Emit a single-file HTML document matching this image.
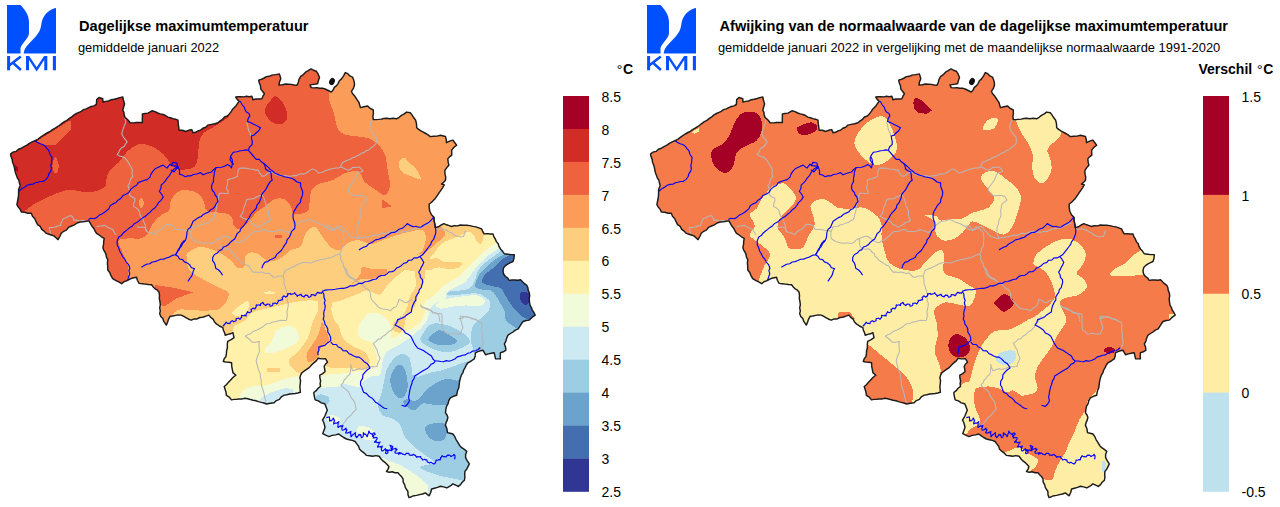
<!DOCTYPE html>
<html><head><meta charset="utf-8"><title>KMI</title>
<style>
html,body{margin:0;padding:0;background:#fff;}
body{width:1280px;height:507px;overflow:hidden;font-family:"Liberation Sans",sans-serif;}
svg{display:block;font-family:"Liberation Sans",sans-serif;}
text{fill:#000;}
</style></head><body>
<svg width="1280" height="507" viewBox="0 0 1280 507">
<defs>
<clipPath id="be"><polygon points="10.5,154 13,152.1 16.1,151.4 18.4,149.2 21.4,148.2 24.1,146.6 26.9,145.2 29.4,143.3 32.2,141.9 35,140.6 37.8,139.3 40.3,137.4 42.8,135.7 45.3,134 48,132.5 50.4,131.3 52.5,129.6 54.8,128.3 57.1,126.9 59.3,125.5 61.4,123.8 64,121.9 66.9,120.4 69.4,118.4 72.1,116.6 74.1,114.8 76.5,113.5 79,112.4 81.4,111.3 83.5,109.6 86.3,108.9 88.7,107.6 91.3,106.5 94,105.9 96.4,104.5 96.7,99.6 99,97.5 102.8,98.7 102.9,102.1 105.6,101.4 108.6,101 111.3,99.7 114.2,99.3 117.1,98.5 119.9,97.6 122.8,97 123.5,100.6 124.6,103.9 123.7,107 122.8,110.1 124,112.5 124.2,115.2 125.2,117.6 128,120 130.2,122.8 133.3,122.9 136.4,122.5 139.4,122.5 142.4,122.5 142.3,119.8 142.4,116.8 142.4,113.9 145.1,113.5 147.9,113.1 152,110.8 155,111.6 157.6,113 160.4,113.9 163,114.5 165.5,115.5 167.8,117.1 170.4,117.8 172.9,118.6 175.5,119.2 178,120.2 178.2,123.6 178.7,126.9 179.1,130.2 182.4,130.3 185.5,131.5 188.5,130.3 191.7,129.6 193,132.7 195.6,132.3 198,130.9 200.5,130.3 202.8,128.3 205.7,127.2 207.9,125.1 211.3,124.4 214.7,123.7 218,122.8 220.2,120.9 222.6,119.3 224.5,117 227.3,116 229.3,113.9 231,111.9 232.4,109.6 234.3,107.6 236.1,105.7 237.6,103.4 239.2,101.3 237.2,99.4 235.7,97 238.3,96.7 241,96.8 243.8,96.9 246.5,96.3 249.2,96.7 251.9,96.3 252.9,99.7 256,99 259,99 261.9,98.7 262.9,96.2 264.4,93.8 262.5,91.3 260.7,88.8 260.5,85.8 259.3,83 258.7,80.1 261.6,79.3 264.1,78 266.5,76.6 269.4,76.3 271.9,75.1 275.7,74.6 279.4,73.9 280.8,78.8 279.5,81.9 279,85.1 282.4,84.8 285.7,84 288.5,84.2 291.4,84.4 294.1,85 297,85.2 298.3,82.2 299.1,79.1 300.7,76.3 303.4,74.6 305.5,72.2 308.2,70.6 310.9,68.9 313.5,70.2 316.3,71.2 318.2,74.2 319.5,77.5 318.4,80.6 317.6,83.8 313.7,84.4 310,84.9 311.2,87.6 314.1,87.9 316.9,87.6 319.6,88.3 322.4,88.1 325.1,89 328.2,90.5 331.3,92.1 333.1,90 334.3,87.4 336.6,85.6 338.2,83.4 339.4,80.8 341.5,78.9 343.6,75.8 345.3,72.6 347.8,73.7 349.9,75.9 352.5,77.1 353.5,79.6 354.3,82.3 354.5,85.1 353.4,88.4 351.4,91.3 352.6,93.7 354.5,95.8 356,98 357.5,100.3 359,102.5 360.4,107.6 364,106.8 367.7,106 370.2,108.4 373.3,110 373.4,113.3 372.9,116.4 373.3,119.6 375.9,119.6 378.6,119.4 381.2,119.1 383.9,118.5 386.5,118.2 389.8,118.7 393.2,118.3 396.5,118.8 399.1,117.3 401.5,115.4 404.2,113.9 406.6,112.1 410.3,112.7 412.1,115.2 413.8,117.8 415.7,120.3 416.5,123.9 416.7,127.7 418.6,129.4 420.9,130.9 423.3,132.2 425.7,133.5 428.1,134.8 430.2,136.6 433.7,136.2 437.1,136.1 440.4,135.3 445.4,136.5 446.3,139.5 446.5,142.7 449.6,141.1 452.9,140.1 454.8,142.7 456.6,145.2 453.8,147.4 451.6,150.2 451.8,155.2 449.5,156.9 447.8,158.9 448.2,162.2 448.9,165.3 446.8,167.6 444.9,170.3 444.9,173.6 445.7,176.9 445.5,180.3 443.6,182.3 441.5,184 444.2,184.8 442.7,187.7 441,190.1 439.2,192.6 437.2,195.7 435.1,198.7 433.3,200.6 431.4,202.5 429.2,204 429.2,207.6 429.8,211.3 431.5,214.7 434.2,217.5 434,221 435.1,224.2 435.1,227.6 438.4,226.8 441.1,225 444,223.7 446.6,224.8 449.1,225.6 451.6,226.5 454.5,225.6 457.5,225.9 460.4,225 463.5,225.2 466.7,225.3 469.8,225.6 472.9,226.4 475.9,226.9 478.8,227.9 481.7,229 482.7,231.5 484.2,233.9 487.1,233.6 490.1,234 493,233.9 493.8,236.6 495.3,239 496.4,241.6 498.2,243.8 499,246.5 500.5,248.9 502.6,251.3 504.4,253.8 507.6,254.2 511,254.6 514.3,254.6 514,258.2 513,261.5 510.5,262.7 508,263.9 505.5,265.6 503.6,267.8 503,270.9 503.6,274 505.3,276.3 507.6,278 509.2,280.4 512.1,280 515,280 517.8,280.2 520.6,279.8 522.5,281.8 524.5,283.7 526.8,285.3 527.9,287.7 528.2,290.4 529.3,292.8 529.7,295.8 529.2,298.9 529.5,302 530,305 531.4,307.5 532.3,310.2 533.9,312.5 535.2,315.1 532,317.4 529.3,320.1 526.2,320.5 523.1,321.5 521.4,323.8 519.8,326.3 518.2,328.9 515.3,330.1 513,332 510.5,333.5 508,335.1 506.7,338 505.9,341.1 504.4,343.9 505.5,346.9 505.9,350.2 503.4,351.8 500.5,352.6 500.2,355.8 500.4,358.9 495.5,358.7 494.9,355.8 494.2,352.7 491.3,353.3 488.4,353.9 485.5,354.7 482.9,350.2 480.4,350.8 477.9,351.6 475.4,352.8 475.2,355.9 474.2,358.9 471.2,361 467.9,362.8 466.3,365 465.1,367.6 463.7,370 462.9,372.7 461.4,375.1 460.5,377.7 459.6,381.4 459.1,385.2 458.8,387.8 457.7,390.2 457.1,392.7 456.7,395.3 453.4,396.3 450.4,397.9 448.8,400.5 448.1,403.7 446.5,406.4 445.8,409.6 445.5,412.8 447,415 447.9,417.6 447.2,420.1 446.1,422.6 445.4,425.1 446.9,428.7 447.5,432.6 450.1,433.3 452.9,434 454.8,436.7 456.2,439.8 458,442.6 459.6,445.4 461.7,447.7 464.3,449.4 466.8,451.3 465.6,454.5 465.6,457.7 467.3,460.9 469.3,463.9 468,466.6 466.7,469.2 464.9,471.4 464.7,474.4 464.9,477.4 464.4,480.3 462.2,482.3 460.5,484.6 458.3,486.4 455.7,485.2 452.9,483.9 450,486.2 446.8,487.9 443.6,486.9 440.4,486.3 437.5,487.4 434.5,488.2 431.6,489 430.7,492.5 429.2,495.8 425.3,492.9 422.6,494 419.6,494.6 416.6,495.4 414,495.7 411.5,496.7 409,497.6 408,494.7 407.9,491.5 405.4,487.7 404.7,484.8 403.2,482.1 403,478.9 401.5,476.6 399.6,474.7 397.9,472.6 394.9,472.7 392.2,471.8 389.3,472.2 386.5,471.5 388.1,469.2 388.9,466.5 387.1,464.6 385.3,462.7 382.9,460.9 380.9,458.7 379.1,456.3 375.9,455.6 372.7,456.2 369.6,455.8 366.5,455.4 364.2,453.1 361.6,451.2 359.5,449.1 358.6,446.3 356.8,443.9 355.1,441.5 352.3,440.4 349.3,439.7 346.4,439 343.7,437.5 341.3,435.8 338.8,434 335.6,434.9 332.2,435.4 328.9,436.6 325.7,435.2 322.7,433.7 323.8,430.7 325,427.5 324.5,425 323.8,422.5 322.5,420.1 324,417.7 325.2,415.3 326.2,412.7 327.3,410.2 326.1,406.9 324.7,403.8 321.3,402.9 318.4,400.9 315.2,399.9 314.3,396.3 313.8,392.5 316.2,390.7 318.1,388.3 320.5,386.4 320.1,383.7 320.6,380.8 319.9,378 319.8,375.2 322.7,373.6 325.1,371.5 324.2,366.4 325.5,364 327.5,362.2 325.6,358.8 321.7,358.9 318,358.2 316.5,360.6 314.4,362.4 312.3,364.3 310.4,366.3 308.5,368.2 306.2,369.7 304,371.2 301.8,372.9 300.6,375.1 299.9,377.7 300.5,380.6 300.3,383.5 299.9,386.4 300.1,389.3 300.4,392.2 297.8,393 295.1,393.5 292.3,393.7 289.6,394 286.9,394.7 284.2,395.1 281.4,396.8 279.4,399.4 276.4,400.6 274.1,402.8 270.3,403.3 266.6,404 264,403 261.2,402.4 258.5,401.6 255.9,400.7 253.1,400.2 250.4,399.5 247.7,398.7 245,398.3 242.4,398.9 239.6,398.9 236.9,399.2 234.2,399.4 231.5,399.9 229.3,397.2 226.4,395.3 226,392.2 225.1,389.3 224.2,386.5 226.4,384.7 228.3,382.4 230.4,380.3 232.9,377.5 235.8,375.2 232.9,372.6 232.3,369.4 231.7,366.1 231.6,362.7 228.8,362.3 226,362.1 223.3,361.5 224.2,358.8 225.9,356.6 226.4,353.9 226.6,350.8 227.4,347.7 227.3,344.5 227.7,341.4 231.1,339.7 234,337.7 232.9,332.6 230.4,333.8 227.8,334.4 225.3,335.2 224.5,332.6 223.4,330.2 222.8,327.6 219.5,326 216.4,323.9 214.4,321.8 213.1,319.1 210.7,317.4 208.9,315.1 205.9,316.1 202.8,317.2 199.8,317.5 197.1,318.9 194.1,318.9 191.4,320.1 188.7,319.2 186.3,317.8 183.8,316.4 181.3,315.1 178.5,314.9 175.7,315.4 172.9,316 170.1,316.3 168.6,319.1 167.6,322.1 166.3,325.1 163.8,321.4 162.8,318.6 160.8,316.4 159.7,313.7 160.3,310.8 159.7,307.8 160.3,304.8 160,301.7 159.3,298.6 159.5,295.4 159.1,292.3 157.4,290.2 155.1,288.8 153.2,286.9 151.6,284.7 148.5,284.5 145.3,284.1 142.2,283.7 139.1,283.4 137.5,280.5 136.5,277.2 131.6,278.3 129,279.5 126.5,280.9 123.9,281.8 121.7,283.7 118.7,281.8 115.6,280.4 112.7,278.6 111,275.6 109.7,272.5 107.7,269.8 107.7,266.4 107.4,263 107.8,259.7 106.5,257.3 106.1,254.6 105,252.1 103.6,249.8 102.9,247.2 103.6,244.3 103.7,241.3 104.2,238.4 101.4,236.8 99.1,235 96.5,233.4 95,230.9 93.7,228.2 91.8,226 90.4,223.4 88.9,220.9 86.1,221.2 83.2,221.9 80.2,222 77.1,223 74.4,224.8 71.5,226 68.6,227.3 66.6,229.9 63.7,231.3 61.3,233.3 59.8,236.5 58,239.6 56,237.8 53.9,235.9 51.4,235 48.9,234.2 46.4,233.4 44.2,231.2 41.7,229.3 40.2,226.4 37.6,224.6 36.1,221.7 34.8,218.7 32.5,216.3 31.3,213.3 27.9,213.2 24.7,212.3 21.3,212 20.2,209.4 18.3,207.1 16.9,204.6 17.5,201.5 18.1,198.5 18.5,195.6 18.6,192.5 18.6,189.5 20.2,185.4 19.4,182.7 18.8,180.1 17.3,177.9 16.5,175.4 15.5,172.9 14.9,170.3 14.4,167.6 13.6,164.8 12.5,162.2 12.2,159.4 11.1,156.8"/></clipPath>
</defs>
<rect width="1280" height="507" fill="#fff"/>
<!-- left map -->
<g clip-path="url(#be)" shape-rendering="crispEdges">
<rect x="0" y="60" width="560" height="447" fill="#fb9c59"/>
<path d="M172.5 316.5C172.8 315.8 173.2 313.6 174.5 312.4C175.8 311.2 177.2 309.7 180.5 309.4C183.8 309.1 189.2 310.2 194.6 310.4C200.0 310.6 208.7 310.6 212.7 310.4C216.7 310.2 216.5 310.8 218.7 309.4C220.9 308.0 224.1 305.0 225.8 302.3C227.5 299.6 229.7 295.7 228.8 293.3C228.0 290.9 224.7 290.4 220.7 288.2C216.7 286.0 209.8 283.2 204.6 280.2C199.4 277.2 192.6 274.1 189.6 270.1C186.6 266.1 186.6 259.0 186.5 256C186.4 253.0 186.9 253.5 189 252C191.1 250.5 195.3 247.5 199 247C202.7 246.5 207.3 247.9 211 249C214.7 250.1 217.7 251.6 221 253.5C224.3 255.4 228.2 258.2 231 260.5C233.8 262.8 235.2 266.5 237.5 267.5C239.8 268.5 243.2 268.3 244.5 266.5C245.8 264.7 244.4 258.8 245.5 256.5C246.6 254.2 248.9 252.9 251 252.5C253.1 252.1 256.0 253.1 258 254C260.0 254.9 261.5 256.8 263 258C264.5 259.2 265.0 260.6 267 261C269.0 261.4 272.7 261.0 275 260.5C277.3 260.0 279.1 259.1 281 258C282.9 256.9 284.7 255.3 286.4 254C288.1 252.7 288.6 251.2 291 250C293.4 248.8 298.2 248.8 300.5 246.5C302.8 244.2 303.2 239.2 304.5 236.5C305.8 233.8 306.2 231.7 308 230.1C309.8 228.5 312.7 226.0 315 227C317.3 228.0 320.1 233.4 322 236C323.9 238.6 324.9 240.4 326.7 242.5C328.5 244.6 330.3 247.3 332.7 248.5C335.1 249.7 338.4 250.5 340.8 249.6C343.2 248.7 344.4 244.7 347.3 243.1C350.2 241.5 354.5 239.9 358.4 240.1C362.2 240.2 366.7 243.8 370.4 244C374.1 244.2 376.1 242.5 380.5 241C384.9 239.5 391.2 236.8 396.6 235.1C402.0 233.4 408.3 231.9 412.7 231.1C417.1 230.3 420.6 228.9 422.8 230.1C425.0 231.3 425.8 234.8 425.8 238.1C425.8 241.4 424.3 247.3 422.8 250.2C421.3 253.0 417.4 253.7 416.7 255.2C416.0 256.7 417.3 259.4 418.7 259.2C420.1 259.0 422.8 256.0 424.8 254.2C426.8 252.4 428.5 250.4 430.8 248.2C433.1 246.0 436.5 243.3 438.9 241.1C441.2 238.9 444.1 236.9 444.9 235.1C445.7 233.3 444.6 231.6 443.9 230.1C443.2 228.6 441.4 226.7 440.9 226L450 215L560 215L560 520L150 520L172 330Z" fill="#fece7f"/>
<path d="M228 337C228.8 335.9 231.8 332.2 232.8 330.5C233.8 328.8 231.8 328.2 233.8 326.5C235.8 324.8 241.7 322.8 244.9 320.4C248.1 318.0 249.2 314.4 252.9 312.4C256.6 310.4 262.3 309.6 267 308.4C271.7 307.2 276.7 306.3 281.1 305.3C285.5 304.3 288.5 303.1 293.2 302.3C297.9 301.5 305.1 300.5 309.3 300.3C313.5 300.1 315.8 300.9 318.4 301.3C321.0 301.8 322.8 302.4 325 303C327.2 303.6 330.0 305.1 331.4 305C332.8 304.9 331.8 303.1 333.5 302.3C335.2 301.5 337.7 301.6 341.5 300.3C345.3 299.0 352.2 296.1 356.4 294.5C360.5 292.9 363.5 290.6 366.4 290.4C369.3 290.1 371.6 292.3 374 293C376.4 293.7 378.4 295.6 380.5 294.5C382.6 293.4 383.8 289.4 386.5 286.4C389.2 283.4 393.6 279.1 396.6 276.4C399.6 273.7 401.7 271.1 404.7 270.3C407.7 269.5 412.1 271.7 414.7 271.3C417.2 270.9 418.0 268.2 420 268C422.0 267.8 425.3 271.6 426.8 270.3C428.3 269.0 427.5 263.2 428.8 260.2C430.1 257.2 432.8 254.9 434.8 252.2C436.8 249.5 438.5 246.1 440.9 244.1C443.2 242.1 445.9 241.4 448.9 240.1C451.9 238.8 456.0 237.4 459 236.1C462.0 234.8 464.6 232.4 467 232.1C469.4 231.8 471.4 232.4 473.1 234.1C474.8 235.8 475.8 240.4 477.1 242.1C478.4 243.8 480.1 244.8 481.1 244.1C482.1 243.4 482.6 239.9 483.1 238.1C483.6 236.2 483.9 233.8 484 233L500 225L560 225L560 520L200 520L200 340L215 345Z" fill="#fff1aa"/>
<path d="M318 377C318.4 376.7 318.6 375.8 320.7 375.3C322.8 374.9 326.8 374.6 330.8 374.3C334.8 374.0 340.5 373.8 344.9 373.3C349.3 372.8 353.3 371.8 357 371.3C360.7 370.8 364.3 370.8 367 370.3C369.7 369.8 371.4 370.0 373.1 368.3C374.8 366.6 376.8 363.2 377.1 360.2C377.4 357.2 376.1 353.2 375.1 350.2C374.1 347.2 372.9 343.7 371 342C369.1 340.3 366.2 341.3 364 340C361.8 338.7 358.7 336.7 358 334C357.3 331.3 358.8 326.8 360 324C361.2 321.2 363.3 318.8 365 317C366.7 315.2 367.5 313.5 370 313C372.5 312.5 377.0 312.8 380 314C383.0 315.2 386.2 317.5 388 320C389.8 322.5 390.3 325.9 391 329C391.7 332.1 390.7 337.4 392.3 338.3C393.9 339.2 397.7 335.6 400.4 334.3C403.1 333.0 405.4 332.0 408.4 330.3C411.4 328.6 415.8 326.9 418.5 324.2C421.2 321.5 423.4 317.8 424.5 314.2C425.6 310.6 423.4 305.4 424.8 302.5C426.2 299.6 430.1 298.9 432.8 296.5C435.5 294.1 438.2 290.8 440.9 288.4C443.6 286.0 445.9 284.4 448.9 282.4C451.9 280.4 456.0 278.8 459 276.4C462.0 274.0 464.3 271.0 467 268.3C469.7 265.6 472.4 262.9 475.1 260.2C477.8 257.5 480.4 254.5 483.1 252.2C485.8 249.9 489.0 247.7 491.2 246.2C493.4 244.7 495.4 243.6 496.2 243.1L510 235L560 235L560 520L305 520L305 380Z" fill="#f1fad9"/>
<path d="M317 388C317.3 387.7 316.7 387.0 318.7 386.4C320.7 385.8 325.1 384.9 328.8 384.4C332.5 383.9 336.9 383.1 340.9 383.4C344.9 383.7 349.9 385.4 352.9 386C355.9 386.6 357.0 387.9 359 387C361.0 386.1 362.8 382.2 365 380.4C367.2 378.6 369.4 377.0 372 376C374.6 375.0 378.6 376.8 380.3 374.5C382.0 372.2 381.3 366.1 382.3 362.4C383.3 358.7 384.0 355.1 386.3 352.4C388.6 349.7 393.0 348.4 396.4 346.4C399.8 344.4 403.0 342.6 406.4 340.3C409.8 338.0 413.5 335.0 416.5 332.3C419.5 329.6 422.5 326.9 424.5 324.2C426.5 321.5 427.6 318.9 428.6 316.2C429.6 313.5 429.4 310.3 430.6 308.1C431.8 305.9 433.6 304.4 436 303C438.4 301.6 443.1 301.2 444.9 299.5C446.7 297.8 444.9 294.7 446.9 292.5C448.9 290.3 454.0 288.1 457 286.4C460.0 284.7 462.6 284.4 465 282.4C467.4 280.4 469.1 277.0 471.1 274.3C473.1 271.6 474.8 269.0 477.1 266.3C479.4 263.6 482.4 260.6 485.1 258.2C487.8 255.8 490.9 253.9 493.2 252.2C495.5 250.5 498.2 248.9 499.2 248.2L515 240L560 240L560 520L305 520L305 390Z" fill="#cdeaf3"/>
<path d="M502 250C501.4 250.5 500.0 251.8 498.2 253.2C496.4 254.6 493.7 256.3 491.2 258.2C488.7 260.1 485.5 261.9 483.1 264.3C480.8 266.7 478.4 269.6 477.1 272.3C475.8 275.0 476.5 277.7 475.1 280.4C473.8 283.1 471.4 286.7 469 288.4C466.6 290.1 464.2 289.9 461 290.4C457.8 290.9 452.2 290.9 449.9 291.4C447.6 291.9 447.2 292.8 447 293.5C446.8 294.2 446.6 295.3 448.9 295.5C451.2 295.7 456.3 294.8 461 294.5C465.7 294.2 472.7 292.8 477.1 293.5C481.5 294.2 485.1 297.1 487.2 298.5C489.3 299.9 489.6 300.2 489.9 302.1C490.2 304.0 490.4 307.4 488.9 310.1C487.4 312.8 483.6 315.5 480.9 318.2C478.2 320.9 474.5 322.8 472.8 326.2C471.1 329.6 470.8 334.6 470.8 338.3C470.8 342.0 471.9 345.4 472.8 348.4C473.7 351.3 475.5 354.7 476 356L480 370L560 370L560 240L510 240Z" fill="#9ccde3"/>
<path d="M466 362C465.8 362.1 467.0 361.6 464.8 362.4C462.6 363.1 456.7 365.1 452.7 366.5C448.7 367.9 444.3 369.5 440.6 370.5C436.9 371.5 434.3 371.5 430.6 372.5C426.9 373.5 421.5 376.2 418.5 376.5C415.5 376.8 413.7 376.2 412.5 374.5C411.3 372.8 412.1 369.5 411.4 366.5C410.7 363.5 410.2 358.4 408.4 356.4C406.6 354.4 403.1 353.7 400.4 354.4C397.7 355.1 394.6 357.7 392.3 360.4C390.0 363.1 387.6 367.1 386.3 370.5C385.0 373.9 385.2 376.6 384.3 380.6C383.4 384.6 382.2 390.4 381.1 394.5C380.0 398.6 377.4 401.7 377.7 405.1C378.0 408.5 380.2 412.8 382.7 415.1C385.2 417.4 389.8 417.1 392.7 418.8C395.6 420.5 398.2 422.0 400.3 425.1C402.4 428.2 402.8 433.8 405.3 437.6C407.8 441.4 412.0 444.8 415.3 447.7C418.6 450.6 422.0 452.7 425.3 455.2C428.6 457.7 435.3 461.0 435.3 462.7C435.3 464.4 427.8 464.4 425.3 465.2C422.8 466.0 419.5 466.4 420.3 467.7C421.1 468.9 426.5 471.2 430.3 472.7C434.1 474.2 438.7 475.4 442.9 476.5C447.1 477.6 451.9 478.2 455.4 479C458.9 479.8 462.6 480.7 464 481L485 481L485 362Z" fill="#9ccde3"/>
<path d="M420.5 338.3C421.2 335.3 425.9 328.7 428.6 326.2C431.3 323.7 432.6 323.0 436.6 323.2C440.6 323.4 448.0 325.3 452.7 327.2C457.4 329.1 461.9 331.8 464.8 334.3C467.7 336.8 470.5 340.0 469.8 342.3C469.1 344.6 464.2 346.7 460.7 348.4C457.2 350.1 452.7 352.1 448.7 352.4C444.7 352.7 440.6 351.8 436.6 350.4C432.6 349.0 427.2 346.3 424.5 344.3C421.8 342.3 419.8 341.3 420.5 338.3Z" fill="#9ccde3"/>
<path d="M316 396C317.0 394.8 319.9 394.2 322 394.5C324.1 394.8 327.6 396.1 328.8 397.5C330.0 398.9 330.1 401.7 329 403C327.9 404.3 324.2 405.7 322 405.5C319.8 405.3 317.0 403.6 316 402C315.0 400.4 315.0 397.2 316 396Z" fill="#9ccde3"/>
<path d="M504 254.5C502.9 255.1 499.7 256.6 497.2 258.2C494.7 259.8 491.9 261.9 489.2 264.3C486.5 266.7 483.1 270.0 481.1 272.3C479.1 274.6 478.1 276.0 477.1 278.4C476.1 280.8 474.4 284.6 475.1 286.4C475.8 288.2 478.4 288.7 481.1 289.4C483.8 290.1 488.7 289.3 491.2 290.4C493.7 291.5 494.5 293.9 496 296C497.5 298.1 498.5 300.3 500 303C501.5 305.7 504.0 309.2 505 312C506.0 314.8 504.6 317.6 506 320C507.4 322.4 511.1 324.7 513.1 326.2C515.1 327.7 517.2 328.5 518 329L530 335L560 335L560 245L510 245Z" fill="#6ca3cc"/>
<path d="M428.6 338.3C429.8 336.3 435.6 331.1 438.6 330.3C441.6 329.5 443.7 331.6 446.7 333.3C449.7 335.0 455.7 338.5 456.7 340.3C457.7 342.1 455.4 343.5 452.7 344.3C450.0 345.1 444.1 345.6 440.6 345.3C437.1 345.0 433.6 343.5 431.6 342.3C429.6 341.1 427.4 340.3 428.6 338.3Z" fill="#6ca3cc"/>
<path d="M400.4 364.5C402.1 365.0 404.2 367.8 405.4 370.5C406.6 373.2 407.1 377.3 407.4 380.6C407.7 383.9 408.3 387.4 407.3 390.4C406.3 393.4 403.4 398.1 401.2 398.5C399.0 398.9 395.8 395.6 394 393C392.2 390.4 390.8 385.7 390.3 382.6C389.9 379.5 390.5 377.0 391.3 374.5C392.1 372.0 393.8 369.2 395.3 367.5C396.8 365.8 398.7 364.0 400.4 364.5Z" fill="#6ca3cc"/>
<path d="M460 378C459.4 378.4 458.6 380.5 456.7 380.6C454.8 380.7 451.4 378.6 448.7 378.6C446.0 378.6 443.6 379.3 440.6 380.6C437.6 381.9 433.3 384.7 430.6 386.6C427.9 388.5 426.3 390.1 424.5 392C422.7 393.9 421.8 396.5 420 398C418.2 399.5 416.0 400.8 414 401C412.0 401.2 409.8 398.8 408 399C406.2 399.2 403.0 400.6 403 402C403.0 403.4 405.8 406.2 407.8 407.6C409.9 409.0 412.8 410.8 415.3 410.1C417.8 409.4 419.5 404.3 422.8 403.5C426.1 402.7 431.1 404.8 435.3 405.1C439.5 405.4 445.8 405.1 447.9 405.1L470 405L470 378Z" fill="#6ca3cc"/>
<path d="M427.8 425.1C430.3 423.9 437.3 422.4 440.4 422.6C443.5 422.8 445.8 423.9 446.6 426.4C447.4 428.9 446.9 435.1 445.4 437.6C443.9 440.1 440.5 441.4 437.8 441.4C435.1 441.4 431.2 439.5 429.1 437.6C427.0 435.7 425.5 432.2 425.3 430.1C425.1 428.0 425.3 426.4 427.8 425.1Z" fill="#6ca3cc"/>
<path d="M514 254.5C512.9 254.8 509.4 255.2 507.3 256.2C505.2 257.1 503.6 258.2 501.2 260.2C498.8 262.2 495.9 265.9 493.2 268.3C490.5 270.7 487.0 272.0 485.1 274.3C483.2 276.6 480.8 280.4 482.1 282.4C483.5 284.4 490.0 285.4 493.2 286.4C496.4 287.4 499.1 286.7 501.2 288.4C503.3 290.1 504.5 294.1 506 296.5C507.5 298.9 508.3 300.6 510 303C511.7 305.4 513.8 308.7 516 311C518.2 313.3 520.8 315.5 523 317C525.2 318.5 528.0 319.5 529 320L545 320L545 250L515 250Z" fill="#436fb1"/>
<path d="M521 292.5C522.4 291.3 527.0 291.7 528.4 293C529.8 294.3 530.1 298.5 529.6 300.5C529.1 302.5 526.8 305.1 525.3 305C523.8 304.9 521.0 302.1 520.3 300C519.6 297.9 519.6 293.7 521 292.5Z" fill="#313695"/>
<path d="M444.9 299.5C449.1 298.1 455.6 297.2 461 296.5C466.4 295.8 473.1 294.8 477.1 295.5C481.1 296.2 484.4 298.8 485.1 300.5C485.8 302.2 484.5 304.7 481.1 305.5C477.8 306.3 469.7 305.3 465 305.5C460.3 305.7 456.9 306.0 452.9 306.5C448.9 307.0 443.7 308.9 440.9 308.6C438.1 308.4 435.3 306.5 436 305C436.7 303.5 440.7 300.9 444.9 299.5Z" fill="#f1fad9"/>
<path d="M276.5 330.1C278.9 328.8 285.2 326.0 288.6 326C292.0 326.0 294.9 327.8 296.6 330.1C298.3 332.5 299.6 337.4 298.6 340.1C297.6 342.8 294.3 344.2 290.6 346.2C286.9 348.2 280.5 351.0 276.5 352.2C272.5 353.4 268.2 353.9 266.4 353.2C264.5 352.5 264.6 350.0 265.4 348.2C266.2 346.4 269.9 344.5 271.4 342.1C272.9 339.8 273.6 336.1 274.5 334.1C275.4 332.1 274.1 331.5 276.5 330.1Z" fill="#f1fad9"/>
<path d="M236 399C236.5 398.8 238.0 398.9 239.2 397.5C240.4 396.1 241.1 392.2 243.3 390.4C245.5 388.5 248.5 387.2 252.3 386.4C256.1 385.6 261.7 386.4 266.4 385.4C271.1 384.4 276.5 381.7 280.5 380.4C284.5 379.1 287.2 378.1 290.6 377.4C294.0 376.7 299.3 376.2 301 376L305 410L236 410Z" fill="#f1fad9"/>
<path d="M259 402C259.2 401.6 259.5 400.6 260.4 399.5C261.3 398.4 262.0 396.9 264.4 395.5C266.8 394.1 271.1 392.6 274.5 391.4C277.9 390.2 281.5 388.7 284.5 388.4C287.5 388.1 291.0 388.5 292.6 389.4C294.2 390.3 293.8 393.2 294 394L294 410L259 410Z" fill="#cdeaf3"/>
<path d="M384 458C384.6 458.4 385.0 459.0 387.7 460.2C390.4 461.4 396.1 463.1 400.3 465.2C404.5 467.3 409.1 470.2 412.8 472.7C416.6 475.2 420.3 478.2 422.8 480.3C425.3 482.4 426.9 483.4 427.8 485.3C428.7 487.2 428.0 490.9 428 492L428 505L380 505L380 458Z" fill="#f1fad9"/>
<path d="M358.9 426.4C360.8 425.6 366.2 426.4 368.9 427.6C371.6 428.9 374.6 431.8 375.2 433.9C375.8 436.0 374.8 439.4 372.7 440.2C370.6 441.0 365.2 440.2 362.7 438.9C360.2 437.6 358.2 434.7 357.6 432.6C357.0 430.5 357.0 427.2 358.9 426.4Z" fill="#f1fad9"/>
<path d="M327.6 416C328.4 414.7 331.9 414.5 334 415C336.1 415.5 339.7 417.5 340 419C340.3 420.5 337.8 423.3 336 424C334.2 424.7 330.4 424.3 329 423C327.6 421.7 326.8 417.3 327.6 416Z" fill="#f1fad9"/>
<path d="M318 379C320.0 377.7 325.9 378.7 330 379C334.1 379.3 340.9 379.8 342.6 381C344.3 382.2 342.8 384.9 340 386C337.2 387.1 329.7 387.3 326 387.5C322.3 387.7 319.3 388.4 318 387C316.7 385.6 316.0 380.3 318 379Z" fill="#f1fad9"/>
<path d="M318.4 298C316.2 300.1 319.2 306.7 318.4 310.4C317.5 314.1 314.6 317.0 313.3 320.4C312.0 323.8 311.4 327.2 310.3 330.5C309.2 333.8 309.0 336.3 306.7 340.1C304.4 343.9 299.6 349.9 296.6 353.2C293.6 356.5 289.3 357.7 288.6 360.2C287.9 362.7 290.6 366.2 292.6 368.3C294.6 370.4 297.7 373.1 300.6 373C303.5 372.9 306.8 370.3 310 368C313.2 365.7 316.9 359.1 320 359C323.1 358.9 323.3 365.8 328.8 367.3C334.3 368.9 346.5 368.1 352.9 368.3C359.3 368.5 364.3 369.7 367 368.3C369.7 366.9 369.3 362.9 369 360.2C368.7 357.5 367.7 354.5 365 352.2C362.3 349.9 356.6 348.5 352.9 346.2C349.2 343.9 345.2 341.5 342.9 338.1C340.6 334.7 340.3 328.9 338.9 326C337.5 323.1 335.8 323.0 334.5 320.4C333.2 317.8 331.9 314.1 331.4 310.4C330.9 306.7 333.6 300.1 331.4 298C329.2 295.9 320.6 295.9 318.4 298Z" fill="#fece7f"/>
<path d="M324.8 328C326.0 331.0 329.5 336.7 328.8 340.1C328.1 343.5 322.6 345.4 320.7 348.2C318.8 351.0 319.7 354.8 317.7 357.2C315.7 359.6 310.5 362.8 308.7 362.3C306.9 361.8 306.0 357.2 306.7 354.2C307.4 351.2 310.7 347.5 312.7 344.1C314.7 340.8 317.2 337.8 318.7 334.1C320.2 330.4 320.8 323.0 321.8 322C322.8 321.0 323.6 325.0 324.8 328Z" fill="#fb9c59"/>
<polygon points="267.4,368 279.5,367.5 279.5,371.5 267.4,372" fill="#fece7f"/>
<path d="M416 256C417.6 253.4 422.5 253.7 424 256C425.5 258.3 425.0 265.7 425 270C425.0 274.3 425.0 278.3 424 282C423.0 285.7 420.2 288.6 419 292C417.8 295.4 417.8 298.8 416.5 302.1C415.2 305.5 413.1 309.8 411.4 312.1C409.7 314.5 407.6 314.0 406.4 316.2C405.2 318.4 405.4 322.5 404.4 325.2C403.4 327.9 402.2 331.4 400.4 332.3C398.5 333.2 394.3 332.0 393.3 330.3C392.3 328.6 392.8 324.6 394.3 322.2C395.8 319.8 400.2 318.9 402.4 316.2C404.6 313.5 406.1 309.5 407.4 306.1C408.7 302.7 408.6 299.4 410 296C411.4 292.6 415.2 290.1 416 286C416.8 281.9 414.7 276.3 414.7 271.3C414.7 266.3 414.4 258.6 416 256Z" fill="#fece7f"/>
<path d="M424 262C425.7 260.0 433.3 258.1 436.8 258.2C440.3 258.2 440.9 261.6 444.9 262.3C448.9 263.0 458.6 261.5 461 262.3C463.4 263.1 461.0 266.1 459 267.3C457.0 268.5 452.2 269.3 448.9 269.3C445.5 269.3 442.6 267.1 438.9 267.3C435.2 267.5 429.3 271.2 426.8 270.3C424.3 269.4 422.3 264.0 424 262Z" fill="#fece7f"/>
<path d="M247.9 301.3C249.4 302.0 249.1 307.9 247.9 310.4C246.7 312.9 243.6 315.9 240.9 316.4C238.2 316.9 232.1 315.1 231.8 313.4C231.5 311.7 236.2 308.4 238.9 306.4C241.6 304.4 246.4 300.6 247.9 301.3Z" fill="#fff1aa"/>
<path d="M264 292.8C264.0 292.3 267.7 291.3 269.5 291.3C271.3 291.3 275.0 292.3 275 292.8C275.0 293.3 271.3 294.3 269.5 294.3C267.7 294.3 264.0 293.3 264 292.8Z" fill="#fff1aa"/>
<path d="M362.4 267.3C364.8 266.5 370.5 269.0 374.5 269.3C378.5 269.6 384.7 268.5 386.5 269.3C388.3 270.1 387.5 272.8 385.5 274.3C383.5 275.8 378.7 277.5 374.5 278.4C370.3 279.2 364.3 278.4 360.4 279.4C356.5 280.4 351.3 285.2 351.3 284.4C351.3 283.5 358.5 277.1 360.4 274.3C362.2 271.5 360.0 268.1 362.4 267.3Z" fill="#fb9c59"/>
<path d="M405 158C406.2 158.2 405.5 159.3 407.2 161C408.9 162.7 412.9 165.0 415.2 168C417.5 171.0 421.5 177.6 421.2 179.1C420.9 180.6 416.4 178.3 413.2 177.1C410.0 175.9 404.5 173.9 402.1 172.1C399.8 170.2 399.5 168.0 399.1 166C398.8 164.0 399.0 161.3 400 160C401.0 158.7 403.8 157.8 405 158Z" fill="#fece7f"/>
<path d="M328 88C328.1 88.7 328.4 89.8 328.7 92.2C329.0 94.6 328.9 98.9 329.7 102.2C330.5 105.5 332.4 107.9 333.7 112.3C335.0 116.7 335.8 124.7 337.7 128.4C339.6 132.1 340.9 133.0 344.8 134.4C348.7 135.8 356.7 136.2 360.9 136.9C365.1 137.7 366.9 137.5 369.9 138.9C372.9 140.3 376.5 142.9 379 145.5C381.5 148.1 383.7 151.2 385 154.6C386.3 158.0 386.5 163.1 387 166C387.5 168.9 387.5 168.6 388 172C388.5 175.4 390.5 182.3 390 186.2C389.5 190.1 387.5 194.7 385 195.2C382.5 195.7 378.4 191.4 375 189.2C371.6 187.0 367.2 184.6 364.9 182.1C362.5 179.6 362.2 175.9 360.9 174.1C359.5 172.3 359.5 171.3 356.8 171.1C354.1 170.9 348.8 171.6 344.8 173.1C340.8 174.6 337.1 178.3 332.7 180.1C328.3 181.9 322.1 182.4 318.6 184.1C315.1 185.8 313.1 187.2 311.6 190.2C310.1 193.2 310.1 199.0 309.6 202.3C309.1 205.7 310.0 208.4 308.5 210.3C307.0 212.2 303.0 213.4 300.5 213.9C298.0 214.4 295.2 214.7 293.5 213.3C291.8 211.9 291.9 207.7 290.4 205.3C288.9 203.0 287.1 200.2 284.4 199.2C281.7 198.2 277.5 198.0 274.3 199.2C271.1 200.4 268.3 204.1 265.3 206.3C262.3 208.5 259.1 209.6 256.2 212.3C253.3 215.0 250.9 219.6 248.2 222.4C245.5 225.2 242.6 229.1 240.1 229.4C237.6 229.7 234.4 226.4 233.1 224.4C231.8 222.4 233.3 219.2 232.1 217.4C230.9 215.6 229.1 214.2 226 213.3C222.9 212.4 216.6 212.7 213.3 212.2C210.0 211.7 208.0 212.2 206.3 210.2C204.6 208.2 204.8 202.9 203.3 200.1C201.8 197.2 199.9 194.8 197.2 193.1C194.5 191.4 190.5 190.3 187.2 190.1C183.8 189.9 179.8 190.4 177.1 192.1C174.4 193.8 172.4 197.1 171.1 200.1C169.8 203.1 170.7 207.7 169 210.2C167.3 212.7 163.7 213.0 161 215.2C158.3 217.4 155.2 220.3 153 223.3C150.8 226.3 149.9 230.8 147.9 233.3C145.9 235.8 144.1 237.6 140.9 238.4C137.7 239.2 132.5 238.1 128.8 238.4C125.1 238.7 120.1 238.7 118.7 240.4C117.3 242.1 119.5 245.1 120.7 248.4C121.9 251.8 124.5 257.2 125.8 260.5C127.0 263.8 128.0 264.8 128.2 268.1C128.4 271.4 127.6 277.4 127.2 280.2C126.8 283.0 126.2 284.2 126 285L120 295L0 295L0 60L328 60Z" fill="#ef623e"/>
<polygon points="155,285 175,288 193.6,292.3 176.5,298.3 164.4,306.4 155,303" fill="#ef623e"/>
<polygon points="382,199.2 392,206.3 382,208.3" fill="#ef623e"/>
<polygon points="275.3,234.9 282.4,234.9 282.4,237.5 275.3,237.5" fill="#ef623e"/>
<path d="M141.4 197.5C142.2 197.5 143.9 201.2 143.9 203C143.9 204.8 142.2 208.5 141.4 208.5C140.6 208.5 138.9 204.8 138.9 203C138.9 201.2 140.6 197.5 141.4 197.5Z" fill="#fb9c59"/>
<path d="M229 115C228.7 115.5 230.0 116.2 227.4 118.2C224.8 120.2 217.3 124.7 213.3 127.2C209.3 129.7 205.7 130.8 203.3 133.3C201.0 135.8 200.0 138.8 199.2 142.3C198.3 145.8 198.7 150.7 198.2 154.4C197.7 158.1 197.4 162.2 196.2 164.5C195.0 166.8 194.0 167.7 191.2 168.5C188.3 169.3 182.4 170.2 179.1 169.5C175.8 168.8 173.1 166.3 171.1 164.5C169.1 162.7 169.0 160.8 167 158.4C165.0 156.1 162.0 152.6 159 150.4C156.0 148.2 152.1 146.4 148.9 145.3C145.7 144.2 142.9 143.4 139.9 143.9C136.9 144.4 133.3 146.7 130.8 148.4C128.3 150.2 126.8 152.1 124.8 154.4C122.8 156.7 121.2 159.7 118.7 162.4C116.2 165.1 111.7 167.8 109.7 170.5C107.7 173.2 107.4 176.2 106.7 178.5C106.0 180.8 106.1 182.6 105.7 184C105.3 185.4 106.1 185.8 104.6 187C103.1 188.2 99.9 190.2 96.6 191C93.2 191.8 88.9 192.2 84.5 192C80.1 191.8 74.4 189.7 70.4 189.7C66.4 189.7 64.1 190.8 60.4 192C56.7 193.2 52.7 195.0 48.3 197C43.9 199.0 37.9 201.8 34.2 204C30.5 206.2 28.6 208.3 26.2 210C23.8 211.7 21.0 213.3 20 214L10 220L0 220L0 80L232 80Z" fill="#d22c27"/>
<path d="M275.3 96.2C277.5 96.2 280.5 99.9 282.4 102.2C284.2 104.5 285.7 107.3 286.4 110.3C287.1 113.3 287.4 118.1 286.4 120.4C285.4 122.8 282.8 124.1 280.4 124.4C278.0 124.7 274.6 123.9 272.3 122.4C270.0 120.9 267.6 117.5 266.3 115.3C265.0 113.1 264.2 111.5 264.7 109.3C265.2 107.1 267.5 104.4 269.3 102.2C271.1 100.0 273.1 96.2 275.3 96.2Z" fill="#d22c27"/>
<polygon points="36,141.5 70.4,120 71.4,129.2 64.4,136.3 55.3,145.3 45.3,145.3 38.2,142" fill="#ef623e"/>
<path d="M55.7 157.4C56.7 158.0 58.7 162.8 58.8 165.5C58.9 168.2 57.5 172.8 56.5 173.5C55.5 174.2 53.6 171.9 53 170C52.4 168.1 52.2 164.1 52.7 162C53.2 159.9 54.7 156.8 55.7 157.4Z" fill="#ef623e"/>
<path d="M15.2 165.5C15.6 165.0 17.3 166.0 17.7 167C18.1 168.0 17.9 171.0 17.5 171.5C17.1 172.0 15.9 171.0 15.5 170C15.1 169.0 14.8 166.0 15.2 165.5Z" fill="#a50026"/>
</g>
<polyline points="124.6,117.6 125.6,120.2 125.6,123 124.3,125.6 123.4,128.4 122.4,131.1 121.8,133.9 123.2,136.8 125.2,139.3 127.2,141.9 125.4,144.1 124.2,146.5 121.5,147.8 119.8,149.8 118.8,152.4 117.1,154.4 119.5,156 122.5,156.7 125.1,158.3 127,160.4 128.5,162.8 129.8,165.2 131.4,167.5 132.4,170.2 131.8,173.4 132.8,176.3 131.1,178.3 130,180.7 129.6,183.4 127.9,185.5 129,188.6 129.7,191.7 129.6,195 131.9,197 134.8,198.3 134.9,201.1 133.7,203.6 133.6,206.4 136.6,208.1 138.9,210.4 139.7,213.5 140.7,216.5 142.9,218.9 143.8,221.9 145.2,224.7 145.6,227.1 145.9,229.6 146.4,232.1" fill="none" stroke="#b6b6b6" stroke-width="1.05" stroke-linejoin="round"/>
<polyline points="50.3,234.5 50,231 49.3,227.5 52.3,227.6 55.1,227.1 57.7,226 60.4,225.6 61.1,223 62.2,220.6 63.5,218.4 66.3,217.7 68.7,216.1 71.5,215.7 73.1,217.8 73.9,220.5 76.3,220 78.8,221 81.4,220.4 83.9,220.6 86.5,220.5" fill="none" stroke="#b6b6b6" stroke-width="1.05" stroke-linejoin="round"/>
<polyline points="96.6,226.8 99.2,225.9 102,226.1 104.6,225.3 107.2,227.1 109.9,228.3 112.7,229.4 114.2,232.3 116,235" fill="none" stroke="#b6b6b6" stroke-width="1.05" stroke-linejoin="round"/>
<polyline points="136.9,226.5 139.5,227.5 142.2,227.1 144.9,227.6 146.1,230.2 148,232.4 151.6,232.9 155,234.6 156.6,232.1 159,230.5 161.3,229.4 163.3,227.9 164.7,225.6 166.9,224.3 170.1,224.6 173.1,225.7 175.3,229.4 177.6,229.4 180.2,229.5 182.7,229.7 185.1,230.5 188.2,230.6 191.2,231.4" fill="none" stroke="#b6b6b6" stroke-width="1.05" stroke-linejoin="round"/>
<polyline points="239.5,168.1 238.2,170.6 237.7,173.4 237.4,176.2 235.1,177.6 232.5,178.4 229.8,178.9 227.3,180 227.7,183 227.2,185.6 226.2,188.2 227.9,190.6 228.3,193.3 225.4,193.6 222.4,193.2 219.4,193.3 218.7,196.2 218.3,199 217.9,201.7 217,204.2 216.4,206.8 216.2,209.5 215.5,212.1 214.6,214.6 214.2,217.2 213.2,219.7 210.5,220.8 208.3,222.6 205.4,223.2 202.9,224.4 200.4,224.8 198.1,226.2 195.5,226.6 192.9,226.9 191.3,231.5" fill="none" stroke="#b6b6b6" stroke-width="1.05" stroke-linejoin="round"/>
<polyline points="191.2,231.5 190.7,235 191.3,238.5 193.7,240.2 196.2,241.8 199.2,242.5 202.2,243.2 205.3,242.9 208.3,242.9 211.3,243.5 214.2,242.2 216.4,239.8 219.4,238.6 222,237.6 224.6,236.6 227.4,236.3 230.5,238.3 233.5,240.6 236.3,242.1 239.4,242.8 241.5,240.8 244.2,240.1 246.1,238.2 248.3,236.7 250.5,234.8 252.2,232.5 254.6,231.4 257.4,231.6 260,230.9 262.3,229.6 265.1,229.6 267.5,231.3 270.3,231.6 272.9,231.5 275.5,231.2 278,230.7 280.4,229.6 283.1,230.4 285.7,231.5 288.4,232.5 290.7,230.8 292.6,228.6 294.6,226.6 296.5,224.8 298.6,223.2 300.7,221.6 303.3,221.1 306,220.7 308.5,219.5 311.4,219.9 313.9,221.4 316.6,222.4 319.4,223.5 322.2,224.7 324.7,226.3 327.1,226 329.7,225.7 330.8,228.3 332.5,230.6 335.5,229.3 337.8,227.2 340.7,226.3 343.2,228.1 344.7,230.6 347,232.3 348.6,234.7 350.8,236.5 353.5,237.3 356.1,238.3 358.9,238.6 361.3,237.4 363.9,237.7 366.4,236.8 369,236.8 371.4,235.7 373.9,235.1 376.6,235.6 379,234.5 381.9,233.2 385.1,233.4 388.2,232.8 391.1,231.5 393.6,231.3 396,232.5 398.6,232 401.1,232.4 403.6,231.2 406.6,231.7 409.2,230.4 412.1,229.2 415.2,228.8 418.3,228.5 421.3,227.8 423.6,226 426.3,225.4 428.6,223.8 431.4,223.2" fill="none" stroke="#b6b6b6" stroke-width="1.05" stroke-linejoin="round"/>
<polyline points="219.4,238.5 219.5,241.5 219.6,244.6 220.9,247.5 223,248.7 225.6,249.2 228.4,248.8 230.8,250.3 232.1,252.4 234.4,253.8 235.1,256.5 237.4,258 238.9,260.1 241.3,261.8 243.8,263.4 246.2,265 249,266.1 250.9,269.2 253.1,272.1 255.6,272.1 258.3,272.5 261,272.1 263.6,272.7 266.3,273.5 269,273 271.1,275.1 273.3,277 275.6,277.3 278,276.1 280.6,276 283.1,276.3 284.1,273.2 285.2,270.2 287.8,269.3 290.2,268.2 292.7,267.1 295.1,266 298,264.2 301.1,263 304.2,262.5 307.2,262.4 310.3,262.9 313.3,261.9 316,260.8 318.9,260.2 321.6,259.2 324.7,259.3 327.5,258.3 329.9,257.7 332.4,257.1 334.7,255.8 337.1,254.8 339.5,254 341,251.5 341.8,248.5 343.5,246 343.3,243.2 343.7,240.4 343.9,237.7 343.6,234.9 343.1,232.1 341,230.3 338.8,228.4 336.2,227 333.5,229.1 330.3,230.3 327.4,228.3 324.7,226.4" fill="none" stroke="#b6b6b6" stroke-width="1.05" stroke-linejoin="round"/>
<polyline points="283.1,276.2 284,278.7 284,281.3 284,283.9 285.1,286.3 285.9,289 286.8,291.6 287.4,294.3 286.8,297.4 287.3,300.4 288.3,303.3 288.1,306.4 287.5,309.1 286.9,311.9 287.4,314.8 286.9,317.6 286.5,320.3 283.5,320.5 280.6,320.3 277.9,320.9 275.1,321.7 272.4,322.3 269.8,323.4 267,323.7 264.9,324.9 263,326.7 260.7,328 258.5,329.2 255.8,330.6 252.9,331.5 250.7,333.7 247.8,334.6 245.3,336.2 247.8,338 250.2,340 252.2,342.3 255.9,342.2 259.4,341.3 258.9,344.2 259.1,347.3 259.5,350.3 259,352.9 257.8,355.3 257,357.8 256.2,360.3 256.7,363.3 257.6,366.1 258.2,368.9 259.4,371.6 260.3,374.4 260.4,377.3 261.2,380 261.2,382.9 261.5,385.8 262.4,388.5 263.4,391.3 264.2,394.1 264.6,397 265.5,399.8 266.4,402.6" fill="none" stroke="#b6b6b6" stroke-width="1.05" stroke-linejoin="round"/>
<polyline points="246.2,200.3 248.7,199 251.7,199.1 254.4,198.3 256.9,196.8 259.5,195.8 262.2,195.1 263.8,197.7 264.7,200.4 265.7,203 265.8,206 267.5,208.3 268.5,211.3 268.2,214.5 269,217.5 270.5,220.3 268,222 265.1,222.6 263.1,224.8 260.5,225.9 258.1,227.4 255.8,225.6 252.8,224.5 250.9,221.9 248.3,220.3 245.5,219.1 242.7,217.9 240.2,216.3 242.1,213.7 243.3,210.7 243.9,207.3 245.5,204 246.2,200.3" fill="none" stroke="#b6b6b6" stroke-width="1.05" stroke-linejoin="round"/>
<polyline points="246.5,122.4 247.5,125 248,127.7 248.7,130.4 250.2,133.2 250.6,136.4" fill="none" stroke="#b6b6b6" stroke-width="1.05" stroke-linejoin="round"/>
<polyline points="368.9,150 366.1,150.7 364,152.6 361.2,153.3 359,155.1 356.6,156 354.4,157.3 352,158 349.9,159.6 347.4,160.2 345.2,161.3 342.9,162.3 341.4,164.4 340.6,167 338.4,168.1 335.7,167.9 333.2,168.6 330.7,169.1 328.2,169.8 325.8,170.5 323.5,171.8 321.1,172.5 318.6,173.1 316,170.5 312.7,168.9 309.7,170.4 307.2,172.5 304.4,173.9 301.7,173.8 299.1,174.3 296.5,175.6 293.8,175.6 291.1,176.2 288.4,176.2 285.9,175.5 283.4,175.7 280.9,175.7 278.4,175.4 275.1,174.1 272.4,171.9 269.6,172.5 267.1,173.6 265.1,175.8 262.3,176.3 259.8,173.4 258.2,170.1 255.3,170.1 252.6,169.3 249.7,169 246.9,168.3 244.1,168.1 239.5,168.1" fill="none" stroke="#b6b6b6" stroke-width="1.05" stroke-linejoin="round"/>
<polyline points="373.2,119.6 371.2,121.7 370,124.5 369.8,127.8 370.9,131 372.7,133.1 374.2,135.4 376.1,137.4 376.4,140.5 376,143.5 373.9,145.9 371.1,147.7 368.9,150" fill="none" stroke="#b6b6b6" stroke-width="1.05" stroke-linejoin="round"/>
<polyline points="340.8,167.1 343.5,168.1 346.1,169.3 348.8,170.2 351,168.8 352.9,167.3 355.9,167.5 358.9,166.9 361.2,168.8 362.9,171.1 360.5,172.2 357.8,172.9 356.3,175.2 355.4,177.7 354.3,180 352.9,182.3 351,184.8 349,187.2 348,190.3 350.3,192.7 352.9,195.2 355.8,195.7 358.9,195.5 361.9,195.4 364.9,196.4 367,200.3 364.3,202.1 361.8,204.1 361.5,206.8 360.8,209.3 360.7,211.8 361.1,214.4 360.5,217 359.2,219.4 358.7,222 358.2,224.6 357.1,227.1 357,229.8 356.8,232.5 357.8,235.5 359.1,238.4" fill="none" stroke="#b6b6b6" stroke-width="1.05" stroke-linejoin="round"/>
<polyline points="339.5,254.1 340.9,256.3 340.6,259.1 341.6,261.5 343.3,263.6 343.5,266.2 345,268.6 345.4,271.5 346.7,274.1 348.4,276.4 350.8,278 353.4,279.4 356,280.6 358.4,282.4 361,284 363.4,285.9 365.5,288.2 368.3,289.5 370,292 370.6,294.9 370.8,297.9 372.3,300.5 374.3,302.6 376.3,304.7 378.3,306.8 380.6,308.5 383.1,309 385.6,309.3 388.2,309.7 390.6,310.7 393.2,308 396.5,306.4 397.9,303.1 398.8,299.6 401.4,300.2 403.8,302 406.6,302.7 409.5,300.6 412.8,299.7" fill="none" stroke="#b6b6b6" stroke-width="1.05" stroke-linejoin="round"/>
<polyline points="343.5,266.2 345.3,268.5 347,270.9 347.8,273.8 349.6,276.1 351.6,277.7 354.1,278.5 355.9,280.4" fill="none" stroke="#b6b6b6" stroke-width="1.05" stroke-linejoin="round"/>
<polyline points="435.3,228.5 437.9,229.4 440.8,228.7 443.4,229.3 446.3,230 448.6,231.8 451.3,232.7 454.1,235.1 457.4,236.6 460.5,236.7 463.5,236.6 464.5,233.5 465.5,230.5" fill="none" stroke="#b6b6b6" stroke-width="1.05" stroke-linejoin="round"/>
<polyline points="420.2,305 422.5,306.9 425.1,308.2 427.5,309.8 430.6,310.5 432.7,312.7 435.6,313.3 438.6,313.4 441.5,313.8 442.1,316.5 442,319.2 442,322 441.8,324.7 442.4,327.4 442.7,330.1 445.4,331.8 447.6,334 450.2,333.7 452.7,333.3 455.3,334 457.8,333.9 460.3,334.1 461.5,330.7 462.9,327.6 462,324.8 461.5,322 460.3,319.3 460.3,316.3 462.9,316.2 465.3,316.8 467.8,316.9 470.3,317.7 473.2,318.7 476,320 478.8,321.3 481.6,322.7 481.9,325.3 481.5,327.9 481.8,330.6 482.4,333.2 482.3,335.9 482.3,338.6 483.3,341.2 482.8,343.9 481.8,346.5 480.4,348.9" fill="none" stroke="#b6b6b6" stroke-width="1.05" stroke-linejoin="round"/>
<polyline points="401.2,316 399.9,318.6 398.4,321.1 396.5,323.3 395.2,325.9 393.2,328.1 391.5,330.2 389.1,331.4 387.1,333.1 385.3,335 382.8,336.2 381.3,338.4 378.1,339.3 375.8,341.6 373.2,343.4 374.6,345.5 375.9,347.9 377.3,350.2 377.8,353.1 378.9,355.7 380.1,358.3 378.9,360.9 377.6,363.5 377.1,366.4 374.1,366.8 370.9,366.8 367.9,367.4 365,368.6 362.1,369.4 358.9,368.8 355.9,369.7 352.9,370.7 351.5,367.5 350.8,364.3 350.8,366.8 350.7,369.4 350.4,371.9 349.9,374.4 347.7,376 346.1,378.3 344,380.1 343.2,382.9 341,384.6 342.5,386.9 344.8,388.6 347.1,390.3 349,392.4 350,395.3 351.4,397.9 353.3,400.2 354.9,402.7 355.4,405.8 356.3,408.8 354.8,410.9 352.7,412.7 351.3,415.1 348.9,416.8 346.8,418.9 345.2,421.5 343.4,423.5 341.9,425.6 340.3,427.7" fill="none" stroke="#b6b6b6" stroke-width="1.05" stroke-linejoin="round"/>
<polyline points="420.7,306.5 423.1,307.8 425.9,308.1 428.5,309.1 430.8,310.5 433.3,312.3 436.3,313 438.8,314.8 439.3,318.3 439.9,322" fill="none" stroke="#b6b6b6" stroke-width="1.05" stroke-linejoin="round"/>
<polyline points="459,318.6 461.8,318.5 464.2,316.8 467,316.8 469.5,317.4 471.9,318.7 474.6,318.9 477.1,319.6" fill="none" stroke="#b6b6b6" stroke-width="1.05" stroke-linejoin="round"/>
<polyline points="34.6,140.3 37.2,142.3 40.2,143.7 43.3,144.8 45.4,146.4 47,148.6 48.8,150.5 49.9,154.2 52,157.4 51.8,160.2 51.5,162.9 50.8,165.6 51.4,168.3 50.7,171.2 48.9,173.6 48.2,176.5 46.1,179.4 43.1,181.5 40.5,181.5 37.9,182.3 35.3,182.8 32.9,184.3 30.2,184.4 27.3,185.3 24.8,186.9 22.3,188.4 18.5,191.5" fill="none" stroke="#0000f8" stroke-width="1.15" stroke-linejoin="round"/>
<polyline points="88.3,219.5 90.9,218.2 94,218.7 96.6,217.6 99,215.3 101.9,214 104.6,212.3 106.8,210.5 109,208.6 110.2,205.8 112.5,204.1 115.7,202.8 118,200.2 120.8,198.4 122.9,195.6 126,194.2 128.9,192.4 130.9,189.1 134,186.6 136.5,185.5 138.1,182.7 140.7,181.6 143.9,180.5 147.2,179.6 149.9,177.4 151,174.1 153,171.1 155.6,168.4 158.9,166.9 163,165.1 167,168.1 170,164.2 173.2,165.9 178.1,166.1" fill="none" stroke="#0000f8" stroke-width="1.15" stroke-linejoin="round"/>
<polyline points="127.5,280.5 128.8,276.3 129.8,273.7 128.9,270.8 129.9,268.2 128.7,264.9 126.3,262 124.8,259.2 122.6,256.7 121.3,253.7 119.6,251 118.8,248 117.3,245.1 117.1,242 117.7,239.4 118.8,237 121.3,235.6 123,233.2 125.3,231.3 127.7,229.4 130.1,227.4 132.6,225.7 134.7,223.4 137.6,222.1 139.9,219.9 142.4,218.1 145.1,216.5 147.5,214.3 150,212.4 152.2,209.9 154.8,208 156.8,205.5 158.5,202.6 161,200.3 163.3,197.2 161.5,194 159.3,191.4 160.9,188.4 161.2,185.2 163.3,183.1 165.5,180.8 167.1,178.1 169.5,175.6 171.2,172.4 174.3,168.7 178.2,166.6" fill="none" stroke="#0000f8" stroke-width="1.15" stroke-linejoin="round"/>
<polyline points="171,166 172.8,162.4 177,163 177.6,168 175.6,169.9 173.9,171.9 170.8,169.7" fill="none" stroke="#0000f8" stroke-width="1.15" stroke-linejoin="round"/>
<polyline points="178.1,166.3 178.9,168.8 179.6,171.4 179.4,174.1 182.5,175 185.2,176.7 187.7,175.9 190.7,175.9 193.3,174.5 196.9,174 200.5,172.6 203,174.8 205.7,173.7 208.4,172.7 211.2,172.2 213.5,169.6 216.5,167.5 221.4,167.3 224.6,166.2 227.5,164.5 229.8,165.8 231.5,168 232.1,165.1 232.6,162.1 232,159.1 230.6,156.4 233.3,152.2 237,151.7 240.5,150.7 243.1,150.5 245.7,149.9 248.4,150.3 249.5,147 252.1,144.6 252.3,141.6 251.6,138.8 251.3,136 254.1,135.1 256,133 258.7,130.7 260.5,127.7 257.3,126 254.2,124.5 250.9,122.7 247.5,121.4 248.2,118.5 249.9,115.9 249,113.5 246.5,112.1 245.1,109.9 244.4,107.3 242,104.5 240.3,101.3" fill="none" stroke="#0000f8" stroke-width="1.15" stroke-linejoin="round"/>
<polyline points="230.4,157 230.1,160 231.8,162.5 233.8,164.6" fill="none" stroke="#0000f8" stroke-width="1.15" stroke-linejoin="round"/>
<polyline points="216.3,167.3 215.1,169.9 214.3,172.6 214.1,175.5 213.5,178.2 213.5,181.6 211.8,184.7 211.5,188 212.4,190.5 214.3,192.4 215.1,195 216.9,196.9 218,201.6 216.2,203.6 215.1,206.2 213.3,208.4 210.7,209.7 208.7,212 206,213.1 203.3,214.4 201.3,216.5 198.3,217.6 195.7,219.5 193.1,221.2 191.8,224.2 190.5,227.2 188,229.4 186.9,232.4 186.7,235.5 186.1,238.6 184.7,241.4 182.5,243.7 181.2,246.6 178.6,248.9 177.2,252.1 175.7,255.1" fill="none" stroke="#0000f8" stroke-width="1.15" stroke-linejoin="round"/>
<polyline points="141.3,267.3 143.9,265.8 146.6,264.3 149.7,263.8 152.2,262 155.1,261.6 157.9,260.5 160.6,259.2 163.6,259.1 166.3,258 169.4,257.1 172.2,255.4 175.4,254.7 177.1,252 179.3,249.4 180.3,246.1 182.1,242.9 184.6,240.2" fill="none" stroke="#0000f8" stroke-width="1.15" stroke-linejoin="round"/>
<polyline points="175.5,255 178,256.3 179.5,259 182.6,259.6 184.4,261.9 187.4,263 189.7,264.9 191.4,267.7 194.5,268.6 193.2,271.2 192.6,273.8 191.6,276.2 189.7,278.7 187.9,281.3" fill="none" stroke="#0000f8" stroke-width="1.15" stroke-linejoin="round"/>
<polyline points="248.4,150.3 250.4,152.7 252.4,155 254.4,157.3 256.2,159.4 259.2,159.4 261,161.5 263.2,163 265.1,165.7 265.5,169 267.9,170.8 270.7,172 271.3,174.9 271.3,177.6 272.2,180.2 270,181.9 268.5,184.4 267,187.1 265.5,189.9 263.3,192.3 261.6,194.7 261.2,197.6 260.1,200.2 258.9,202.9 256.9,205.1 256.3,208.2 254.3,210.5 252.2,212.6 250.4,215 249.1,217.7 247.4,220.2 246,222.4 244.6,224.5 242.9,226.6 240.9,228.4 239.9,231.4 237.2,233.5 235.9,236.4 234.6,239.1 232.2,240.7 230,242.6 228.2,244.8 225.9,246.2 223.3,247 221.9,249.6 219.4,250.5 217.4,253.1 214.5,254.5 212.8,257.3 212.5,260.6 214.2,262.7 215.2,265.3 215.7,268.2 218.6,270 220.8,272.4 222.6,275.2" fill="none" stroke="#0000f8" stroke-width="1.15" stroke-linejoin="round"/>
<polyline points="263.3,162.8 265.5,165 267.9,166.9 270,169.1 272.4,171 274.6,172.9 277.1,174.1 279.8,175.2 282.5,176 285.4,177 288.5,177.5 291.6,178.2 294.4,179.7 297,182 300.7,182.9 300.6,186.4 301.8,189.3 302.8,192.3 302.3,195.7 300.9,198.9 300.5,202.3 298.6,204.1 297,206.2 295.7,208.6 294.3,210.9 293.2,213.5 293,216.3 293.4,219.4 294.7,222.4 295,225.4 294.7,228.5 291.8,231.1 290.5,234.6 289.3,237.3 287.1,239.6 286.5,242.7 284.6,245.1 283,247.8 281.3,250.5 279,252.5 276.7,254.4 275.3,257.3 272.8,258.8 270.1,259.7 267.9,261.6 265,262.1 263,264.9 261.9,268.2" fill="none" stroke="#0000f8" stroke-width="1.15" stroke-linejoin="round"/>
<polyline points="358.9,250 361.2,248.5 363.6,247.3 366.3,246.4 368.2,244.3 370.6,243 372.9,241.7 375.5,239.9 378.5,239.2 381.4,238.1 384.4,237.2 386.9,235.2 389.3,234 391.5,232.5 394.5,232.4 396.8,231 399,229.2 402.3,228.2 405,226.1 407.3,223.6 410.1,225.4 413.3,226.8 415.9,226.3 418.5,227.2 421.2,227 423.6,225.2 426.4,223.7 429.1,222.2 431.4,219.9 433.5,217.4" fill="none" stroke="#0000f8" stroke-width="1.15" stroke-linejoin="round"/>
<polyline points="433.5,217.4 434.2,220.6 434.6,223.9 435.4,227 435.8,230.2 435.7,233.4 434.6,236.5 433.6,239.3 431.6,241.6 430.7,244.4 428.7,247 426.7,249.6 424.7,252.1 422.6,254.8 419.7,256.4 417.1,257.9 414,257.8 411.7,260.1 408.6,260.2 406.7,262.6 403.7,263.3 401.6,265.4 399.1,266.9 396.5,268.1 394.6,270.4 392.1,271.7 389,271.9 386.9,273.9 384.6,275.5 381.4,275.5 378.6,276.6 376.3,279 373.3,279.5 370.5,280.6 367.7,281.5 364.7,281.8 362.2,283.4 359.1,283.3 356.5,284.7 353.5,285.9 350.2,285.8 347.4,287.4 344.3,288.3 341.3,288.3 338.3,288.8 335.2,289.3 332.2,289.7 328.8,289.8 325.4,290.1 322.2,291.3" fill="none" stroke="#0000f8" stroke-width="1.15" stroke-linejoin="round"/>
<polyline points="322.3,291.6 321.8,292.6 321.2,293.3 320.1,292.8 319.4,293.2 318.2,292.2 317.3,292.2 316.9,293.6 316.1,293.8 315.8,295.1 315.1,295.7 313.8,294.7 313.1,295 312,294.5 311.2,294.6 311,296.4 310.3,296.7 309.2,297.1 308.3,297.1 307.6,295.3 306.8,295.4 306,295.1 305.1,295.4 304.1,297 303.3,296.4 302.5,296.4 301.7,295.7 301,294.2 300,295 299.3,294.9 298.3,295.4 297.2,296.3 296.7,295 296,294.5 295.3,293.8 294.8,292.7 293.6,293.8 292.7,294 291.9,294.1 290.9,294.6 290.4,293.5 289.4,293.5 288.7,293.9 287.7,293.7 287.7,295.5 287.2,296.3 286.3,296.4 285.7,297.1 284.3,296 283.3,296.1 282.9,297 282.1,297.5 282.6,299.1 282.2,300 280.9,299.8 280.5,300.5 279,300.2 278.2,300.5 278.4,301.8 277.7,302.2 277.3,303.3 276.8,304 275.3,303 274.6,303.3 273.6,303.2 272.8,303.3 272.8,305.1 272.1,305.6 271.4,306 270.1,306.2 269.6,304.2 268.7,304.2 267.9,304.1 267,304.1 265.8,305.6 265.1,304.9 264.3,304.5 263.5,303.8 263,302.3 261.9,303.2 261,303.2 260.6,304.2 260.5,305.5 259.1,304.9 258.2,305 257.4,305.2 256.2,304.9 256.2,306.3 256,307.4 255.3,307.8 255.1,309 253.5,308.4 252.5,308.4 251.9,309.1 251,309.4 251.5,311.4 250.8,311.9 250,312.3 249.1,312.7 247.5,311.7 247.1,312.8 246.5,313.4 246.1,314.5 246.1,316 244.7,315.4 243.9,315.7 242.7,315.5 241.6,315.4 241.7,317.2 241,317.7 240.6,318.7 239.9,319.2 238.5,318.1 237.7,318.5 236.8,318.5 236.1,318.8 236.1,320.8 235.3,321 234.6,321.4 233.8,321.8 232.3,320.6 231.8,321 231.1,321.5 230.3,321.9 230,323.7 229.1,323.5 228.2,323.2 227.3,323.4 226.1,322.2 225.5,323.1 225,324.1 224.2,324.4 223.8,325.9 222.8,325.4" fill="none" stroke="#0000f8" stroke-width="1.15" stroke-linejoin="round"/>
<polyline points="322.3,291.6 323.9,294.3 324,297.6 325.2,300.4 324.3,303 325.2,305.7 325,308.4 324.1,311 323.7,313.6 324,316.4 323.2,319 324.5,321.4 324.9,324.2 326.6,326.4 327.8,329 327.8,332.1 329.5,334.6 330.6,337.4 330.8,340.6 327.8,342.7 324.9,345.4 321.7,346.1 318.7,347.1 318.9,349.9 317.8,352.4 318,355" fill="none" stroke="#0000f8" stroke-width="1.15" stroke-linejoin="round"/>
<polyline points="330.8,342.2 332.9,344.4 336.3,344.5 338.2,347 341,348 343.1,350.6 346.7,350.9 348.8,353.5 351.3,354.6 353.7,355.9 356.2,357.1 359.1,357.1 361.8,359.1 364.1,361.7 367.1,363.4 368.7,365.6 370,368.1 367.1,370 364.8,372.3 362.9,374.9 362.6,378.4 360.6,381.5 360.5,385 361.9,387.3 362.6,389.8 363.6,392.3 366.6,393.6 368.8,396.2 371.7,397.9 373.7,399.9 375.4,402.2 377.9,403.6 380.2,405.2 382.3,406.9 384.5,408.3 387.2,408.8" fill="none" stroke="#0000f8" stroke-width="1.15" stroke-linejoin="round"/>
<polyline points="419.7,256.4 421.9,259.2 423.8,262.3 422.7,264.9 421.3,267.3 420.1,269.9 418.6,272.3 420.1,274.7 420.4,277.4 422.4,279.6 422.7,282.4 421.9,285 421.2,287.6 419.3,289.7 418.8,292.4 417.1,294.7 415.8,297.1 415.8,300.1 414.1,302.4 412.7,305.5 411.8,308.7 411.3,312.1 408.9,313.6 406.7,314.9 404.8,316.7 401.3,318.5 397.6,319.6 396.8,322.5 395,325 398.1,326.5 400.9,328.3 403.6,330.2 405.3,332.9 408.3,334.3 410.8,336.2 412.3,339.2 413.7,342.3 415.4,345.2 417.5,348 420.5,349.2 423.4,350.6 426.1,352.4 428.8,354.3 431.5,356 432.9,359 435.2,361.1" fill="none" stroke="#0000f8" stroke-width="1.15" stroke-linejoin="round"/>
<polyline points="435.3,361 438,361 440.8,361.5 443.5,361.8 446.3,360.6 449,361.2 452,360.2 454.8,359 457.2,356.9 460.2,356.1 462.7,355.3 465.4,354.9 467.7,353.2 470.3,352.7 472.7,351.1 475.6,350.7 478.1,349.5 480.3,347.5" fill="none" stroke="#0000f8" stroke-width="1.15" stroke-linejoin="round"/>
<polyline points="435.3,361 433.7,363.1 431.1,364.2 429.5,366.3 427.6,368.2 425.3,369.5 422.6,371.1 419.9,372.8 417.2,374.4 414.6,376.1 414,378.6 412.4,380.9 411.9,383.5 410.7,386.8 409.8,390.1 409.3,393.4 408.6,397.2 409.4,401 407.7,404 405.4,406.4 401.5,405.3" fill="none" stroke="#0000f8" stroke-width="1.15" stroke-linejoin="round"/>
<polyline points="326.3,417.6 327.3,417.4 328.3,417.3 329.4,416.8 329.6,418.4 329.5,421 330.6,420.4 331.3,421 333.4,418 333.9,419.8 334.6,420.3 333.8,422.5 333.6,424 335.6,422.9 336.3,423.4 338.8,421.6 338,423.8 338.1,425 337.8,426.6 338.1,427.5 340.7,425.6 341.2,426.3 343,425.4 341.8,428.3 342,429.4 342.4,430.2 343.6,430 346.1,428.2 346,429.7 347,429.7 345.6,433 346.6,433 347.6,433.1 349.2,432.3 351,431.4 350.2,433.8 350.9,433.9 351,436.8 352.2,435.4 353.3,434.2 354.3,433.7 355.4,432.6 355.3,436.1 356.1,436.2 356.6,437.7 357.7,436.5 359.1,434.3 359.7,435.2 360.7,434.6 361.4,437.7 362.2,437.3 362.9,436.9 363.3,435.4 363.4,432.7 364.7,434.5 365.5,434 367.1,436.7 367.6,435.6 368,434 368.5,432.9 368.8,431 370.5,433.7 371.3,433.5 372.6,435.1 372.9,433.3 374.2,432.8 374.6,433.5 375.4,434.1 372.5,436.4 373.7,436.8 373.2,438 376.4,437.4 377.2,437.9 377,439 376.3,440.2 374.4,442.1 376.8,441.9 377.1,442.7 380.2,442 379.1,443.5 378.6,444.7 377.7,446.2 377.6,447.1 380.6,446.5 380.9,447.4 382.3,446 381.3,449 381.6,450 382,450.9 383.1,450.8 385.4,448.7 385.5,450.1 386.6,449.9 385.4,453.1 386.1,453.6 387.2,453.4 388.2,452 386.5,449.7 388.8,450.5 389.3,449.9 391.8,450.8 392.1,450.1 390.9,448 391.2,447.3 390,445.3 392.8,446.5 392.5,447.5 392.1,448.8 393,449.2 395.9,448.2 395.8,449.3 397.1,449.3 394.8,451.9 395.1,452.7 395.7,453.2 397.1,453.3 399.8,452.5 398.5,454.4 399.4,453.7 400.2,453.7 401.1,452.9 401.9,453.3 402.8,454.3 403.6,454.2 404.4,454.7 405.3,454.7 406.1,453.4 407,453.4 407.8,453.3 408.8,453.4 409.3,454.9 410.1,455.3 411,455.1 411.8,455.5 412.9,454.6 413.9,454.4 414.5,455.3 415.4,455.4 416,456.4 416.7,457.3 417.8,456.6 418.5,456.8 419.5,456.8 420.6,456.5 420.9,457.7 421.4,458.5 422.2,458.9 422.6,460 423.6,459.8 424.8,459.3 425.5,459.9 426.4,459.8 427.1,460.4 427.2,462 428.1,462.2 428.8,462.6 429.5,463.1 430.9,462.3 431.7,462.5 432.2,463.3 433,463.5 433.8,463.9 434.8,463.8 435,462.7 435.7,462.2 435.9,461.2 436.1,460 437.3,460.2 438.2,460 439,459.6 440.2,459.9 440.5,458.8 440.7,457.6 441.4,457.2 441.6,456.1 442.6,455.9 443.8,456.9 444.5,456.6 445.4,456.8 446.2,456.9 446.9,455.6 447.6,455.1 448.5,455.4 449.2,455 450.1,455.6 451,456.6 451.8,456 452.5,455.7 453.3,455.6 454,454.3 455.1,455.9 454.9,457 455,458 454.3,459.3" fill="none" stroke="#0000f8" stroke-width="1.15" stroke-linejoin="round"/>
<polygon points="10.5,154 13,152.1 16.1,151.4 18.4,149.2 21.4,148.2 24.1,146.6 26.9,145.2 29.4,143.3 32.2,141.9 35,140.6 37.8,139.3 40.3,137.4 42.8,135.7 45.3,134 48,132.5 50.4,131.3 52.5,129.6 54.8,128.3 57.1,126.9 59.3,125.5 61.4,123.8 64,121.9 66.9,120.4 69.4,118.4 72.1,116.6 74.1,114.8 76.5,113.5 79,112.4 81.4,111.3 83.5,109.6 86.3,108.9 88.7,107.6 91.3,106.5 94,105.9 96.4,104.5 96.7,99.6 99,97.5 102.8,98.7 102.9,102.1 105.6,101.4 108.6,101 111.3,99.7 114.2,99.3 117.1,98.5 119.9,97.6 122.8,97 123.5,100.6 124.6,103.9 123.7,107 122.8,110.1 124,112.5 124.2,115.2 125.2,117.6 128,120 130.2,122.8 133.3,122.9 136.4,122.5 139.4,122.5 142.4,122.5 142.3,119.8 142.4,116.8 142.4,113.9 145.1,113.5 147.9,113.1 152,110.8 155,111.6 157.6,113 160.4,113.9 163,114.5 165.5,115.5 167.8,117.1 170.4,117.8 172.9,118.6 175.5,119.2 178,120.2 178.2,123.6 178.7,126.9 179.1,130.2 182.4,130.3 185.5,131.5 188.5,130.3 191.7,129.6 193,132.7 195.6,132.3 198,130.9 200.5,130.3 202.8,128.3 205.7,127.2 207.9,125.1 211.3,124.4 214.7,123.7 218,122.8 220.2,120.9 222.6,119.3 224.5,117 227.3,116 229.3,113.9 231,111.9 232.4,109.6 234.3,107.6 236.1,105.7 237.6,103.4 239.2,101.3 237.2,99.4 235.7,97 238.3,96.7 241,96.8 243.8,96.9 246.5,96.3 249.2,96.7 251.9,96.3 252.9,99.7 256,99 259,99 261.9,98.7 262.9,96.2 264.4,93.8 262.5,91.3 260.7,88.8 260.5,85.8 259.3,83 258.7,80.1 261.6,79.3 264.1,78 266.5,76.6 269.4,76.3 271.9,75.1 275.7,74.6 279.4,73.9 280.8,78.8 279.5,81.9 279,85.1 282.4,84.8 285.7,84 288.5,84.2 291.4,84.4 294.1,85 297,85.2 298.3,82.2 299.1,79.1 300.7,76.3 303.4,74.6 305.5,72.2 308.2,70.6 310.9,68.9 313.5,70.2 316.3,71.2 318.2,74.2 319.5,77.5 318.4,80.6 317.6,83.8 313.7,84.4 310,84.9 311.2,87.6 314.1,87.9 316.9,87.6 319.6,88.3 322.4,88.1 325.1,89 328.2,90.5 331.3,92.1 333.1,90 334.3,87.4 336.6,85.6 338.2,83.4 339.4,80.8 341.5,78.9 343.6,75.8 345.3,72.6 347.8,73.7 349.9,75.9 352.5,77.1 353.5,79.6 354.3,82.3 354.5,85.1 353.4,88.4 351.4,91.3 352.6,93.7 354.5,95.8 356,98 357.5,100.3 359,102.5 360.4,107.6 364,106.8 367.7,106 370.2,108.4 373.3,110 373.4,113.3 372.9,116.4 373.3,119.6 375.9,119.6 378.6,119.4 381.2,119.1 383.9,118.5 386.5,118.2 389.8,118.7 393.2,118.3 396.5,118.8 399.1,117.3 401.5,115.4 404.2,113.9 406.6,112.1 410.3,112.7 412.1,115.2 413.8,117.8 415.7,120.3 416.5,123.9 416.7,127.7 418.6,129.4 420.9,130.9 423.3,132.2 425.7,133.5 428.1,134.8 430.2,136.6 433.7,136.2 437.1,136.1 440.4,135.3 445.4,136.5 446.3,139.5 446.5,142.7 449.6,141.1 452.9,140.1 454.8,142.7 456.6,145.2 453.8,147.4 451.6,150.2 451.8,155.2 449.5,156.9 447.8,158.9 448.2,162.2 448.9,165.3 446.8,167.6 444.9,170.3 444.9,173.6 445.7,176.9 445.5,180.3 443.6,182.3 441.5,184 444.2,184.8 442.7,187.7 441,190.1 439.2,192.6 437.2,195.7 435.1,198.7 433.3,200.6 431.4,202.5 429.2,204 429.2,207.6 429.8,211.3 431.5,214.7 434.2,217.5 434,221 435.1,224.2 435.1,227.6 438.4,226.8 441.1,225 444,223.7 446.6,224.8 449.1,225.6 451.6,226.5 454.5,225.6 457.5,225.9 460.4,225 463.5,225.2 466.7,225.3 469.8,225.6 472.9,226.4 475.9,226.9 478.8,227.9 481.7,229 482.7,231.5 484.2,233.9 487.1,233.6 490.1,234 493,233.9 493.8,236.6 495.3,239 496.4,241.6 498.2,243.8 499,246.5 500.5,248.9 502.6,251.3 504.4,253.8 507.6,254.2 511,254.6 514.3,254.6 514,258.2 513,261.5 510.5,262.7 508,263.9 505.5,265.6 503.6,267.8 503,270.9 503.6,274 505.3,276.3 507.6,278 509.2,280.4 512.1,280 515,280 517.8,280.2 520.6,279.8 522.5,281.8 524.5,283.7 526.8,285.3 527.9,287.7 528.2,290.4 529.3,292.8 529.7,295.8 529.2,298.9 529.5,302 530,305 531.4,307.5 532.3,310.2 533.9,312.5 535.2,315.1 532,317.4 529.3,320.1 526.2,320.5 523.1,321.5 521.4,323.8 519.8,326.3 518.2,328.9 515.3,330.1 513,332 510.5,333.5 508,335.1 506.7,338 505.9,341.1 504.4,343.9 505.5,346.9 505.9,350.2 503.4,351.8 500.5,352.6 500.2,355.8 500.4,358.9 495.5,358.7 494.9,355.8 494.2,352.7 491.3,353.3 488.4,353.9 485.5,354.7 482.9,350.2 480.4,350.8 477.9,351.6 475.4,352.8 475.2,355.9 474.2,358.9 471.2,361 467.9,362.8 466.3,365 465.1,367.6 463.7,370 462.9,372.7 461.4,375.1 460.5,377.7 459.6,381.4 459.1,385.2 458.8,387.8 457.7,390.2 457.1,392.7 456.7,395.3 453.4,396.3 450.4,397.9 448.8,400.5 448.1,403.7 446.5,406.4 445.8,409.6 445.5,412.8 447,415 447.9,417.6 447.2,420.1 446.1,422.6 445.4,425.1 446.9,428.7 447.5,432.6 450.1,433.3 452.9,434 454.8,436.7 456.2,439.8 458,442.6 459.6,445.4 461.7,447.7 464.3,449.4 466.8,451.3 465.6,454.5 465.6,457.7 467.3,460.9 469.3,463.9 468,466.6 466.7,469.2 464.9,471.4 464.7,474.4 464.9,477.4 464.4,480.3 462.2,482.3 460.5,484.6 458.3,486.4 455.7,485.2 452.9,483.9 450,486.2 446.8,487.9 443.6,486.9 440.4,486.3 437.5,487.4 434.5,488.2 431.6,489 430.7,492.5 429.2,495.8 425.3,492.9 422.6,494 419.6,494.6 416.6,495.4 414,495.7 411.5,496.7 409,497.6 408,494.7 407.9,491.5 405.4,487.7 404.7,484.8 403.2,482.1 403,478.9 401.5,476.6 399.6,474.7 397.9,472.6 394.9,472.7 392.2,471.8 389.3,472.2 386.5,471.5 388.1,469.2 388.9,466.5 387.1,464.6 385.3,462.7 382.9,460.9 380.9,458.7 379.1,456.3 375.9,455.6 372.7,456.2 369.6,455.8 366.5,455.4 364.2,453.1 361.6,451.2 359.5,449.1 358.6,446.3 356.8,443.9 355.1,441.5 352.3,440.4 349.3,439.7 346.4,439 343.7,437.5 341.3,435.8 338.8,434 335.6,434.9 332.2,435.4 328.9,436.6 325.7,435.2 322.7,433.7 323.8,430.7 325,427.5 324.5,425 323.8,422.5 322.5,420.1 324,417.7 325.2,415.3 326.2,412.7 327.3,410.2 326.1,406.9 324.7,403.8 321.3,402.9 318.4,400.9 315.2,399.9 314.3,396.3 313.8,392.5 316.2,390.7 318.1,388.3 320.5,386.4 320.1,383.7 320.6,380.8 319.9,378 319.8,375.2 322.7,373.6 325.1,371.5 324.2,366.4 325.5,364 327.5,362.2 325.6,358.8 321.7,358.9 318,358.2 316.5,360.6 314.4,362.4 312.3,364.3 310.4,366.3 308.5,368.2 306.2,369.7 304,371.2 301.8,372.9 300.6,375.1 299.9,377.7 300.5,380.6 300.3,383.5 299.9,386.4 300.1,389.3 300.4,392.2 297.8,393 295.1,393.5 292.3,393.7 289.6,394 286.9,394.7 284.2,395.1 281.4,396.8 279.4,399.4 276.4,400.6 274.1,402.8 270.3,403.3 266.6,404 264,403 261.2,402.4 258.5,401.6 255.9,400.7 253.1,400.2 250.4,399.5 247.7,398.7 245,398.3 242.4,398.9 239.6,398.9 236.9,399.2 234.2,399.4 231.5,399.9 229.3,397.2 226.4,395.3 226,392.2 225.1,389.3 224.2,386.5 226.4,384.7 228.3,382.4 230.4,380.3 232.9,377.5 235.8,375.2 232.9,372.6 232.3,369.4 231.7,366.1 231.6,362.7 228.8,362.3 226,362.1 223.3,361.5 224.2,358.8 225.9,356.6 226.4,353.9 226.6,350.8 227.4,347.7 227.3,344.5 227.7,341.4 231.1,339.7 234,337.7 232.9,332.6 230.4,333.8 227.8,334.4 225.3,335.2 224.5,332.6 223.4,330.2 222.8,327.6 219.5,326 216.4,323.9 214.4,321.8 213.1,319.1 210.7,317.4 208.9,315.1 205.9,316.1 202.8,317.2 199.8,317.5 197.1,318.9 194.1,318.9 191.4,320.1 188.7,319.2 186.3,317.8 183.8,316.4 181.3,315.1 178.5,314.9 175.7,315.4 172.9,316 170.1,316.3 168.6,319.1 167.6,322.1 166.3,325.1 163.8,321.4 162.8,318.6 160.8,316.4 159.7,313.7 160.3,310.8 159.7,307.8 160.3,304.8 160,301.7 159.3,298.6 159.5,295.4 159.1,292.3 157.4,290.2 155.1,288.8 153.2,286.9 151.6,284.7 148.5,284.5 145.3,284.1 142.2,283.7 139.1,283.4 137.5,280.5 136.5,277.2 131.6,278.3 129,279.5 126.5,280.9 123.9,281.8 121.7,283.7 118.7,281.8 115.6,280.4 112.7,278.6 111,275.6 109.7,272.5 107.7,269.8 107.7,266.4 107.4,263 107.8,259.7 106.5,257.3 106.1,254.6 105,252.1 103.6,249.8 102.9,247.2 103.6,244.3 103.7,241.3 104.2,238.4 101.4,236.8 99.1,235 96.5,233.4 95,230.9 93.7,228.2 91.8,226 90.4,223.4 88.9,220.9 86.1,221.2 83.2,221.9 80.2,222 77.1,223 74.4,224.8 71.5,226 68.6,227.3 66.6,229.9 63.7,231.3 61.3,233.3 59.8,236.5 58,239.6 56,237.8 53.9,235.9 51.4,235 48.9,234.2 46.4,233.4 44.2,231.2 41.7,229.3 40.2,226.4 37.6,224.6 36.1,221.7 34.8,218.7 32.5,216.3 31.3,213.3 27.9,213.2 24.7,212.3 21.3,212 20.2,209.4 18.3,207.1 16.9,204.6 17.5,201.5 18.1,198.5 18.5,195.6 18.6,192.5 18.6,189.5 20.2,185.4 19.4,182.7 18.8,180.1 17.3,177.9 16.5,175.4 15.5,172.9 14.9,170.3 14.4,167.6 13.6,164.8 12.5,162.2 12.2,159.4 11.1,156.8" fill="none" stroke="#1c1c1c" stroke-width="1.45" stroke-linejoin="round"/><ellipse cx="332" cy="81.5" rx="2.7" ry="3.7" fill="#111" transform="rotate(25 332 81.5)"/>
<!-- right map -->
<g transform="translate(640,0)">
<g clip-path="url(#be)" shape-rendering="crispEdges">
<rect x="0" y="60" width="560" height="447" fill="#f67b4a"/>
<polygon points="51.3,132.4 59.4,127.4 59.4,131.4 54.3,133.6" fill="#feeea5"/>
<path d="M239.5 116.3C242.7 115.7 244.4 116.7 246.5 118.8C248.6 120.9 250.4 125.4 252 129C253.6 132.6 255.2 137.2 256 140.5C256.8 143.8 257.5 146.4 257 149C256.5 151.6 255.0 153.8 253 156C251.0 158.2 248.0 161.0 245 162.5C242.0 164.0 238.3 165.5 235 165C231.7 164.5 228.3 162.0 225.4 159.6C222.5 157.2 219.2 153.3 217.3 150.5C215.5 147.7 214.1 145.5 214.3 142.5C214.5 139.5 216.2 135.8 218.4 132.4C220.6 129.1 223.9 125.1 227.4 122.4C230.9 119.7 236.3 116.9 239.5 116.3Z" fill="#feeea5"/>
<path d="M118 282C118.2 281.5 118.1 281.8 119.1 279.2C120.1 276.6 122.2 270.4 124.1 266.2C125.9 262.0 130.8 257.7 130.2 254.1C129.6 250.5 123.6 247.2 120.7 244.6C117.8 242.0 114.5 240.2 112.7 238.5C110.9 236.8 109.4 236.5 109.7 234.5C110.0 232.5 114.2 228.8 114.7 226.5C115.2 224.2 113.5 222.4 112.7 220.4C111.9 218.4 109.0 216.4 109.7 214.4C110.4 212.4 114.9 210.8 116.7 208.4C118.5 206.1 119.0 203.0 120.7 200.3C122.4 197.6 124.8 194.7 126.8 192.3C128.8 190.0 130.1 187.7 132.8 186.2C135.5 184.7 140.1 182.9 142.9 183.2C145.8 183.5 147.7 185.8 149.9 188.2C152.1 190.5 155.5 194.6 156 197.3C156.5 200.0 154.8 201.8 153 204.3C151.2 206.8 147.2 209.7 144.9 212.4C142.6 215.1 140.1 217.7 138.9 220.4C137.7 223.1 137.6 226.5 137.9 228.5C138.2 230.5 139.7 230.8 140.9 232.5C142.1 234.2 143.7 236.2 144.9 238.5C146.1 240.8 147.0 244.9 147.9 246.6C148.8 248.3 148.2 248.1 150.3 248.5C152.4 248.9 158.0 249.8 160.4 249.1C162.8 248.4 163.6 247.0 165 244.6C166.4 242.2 167.5 237.3 169 234.5C170.5 231.7 173.2 230.2 174.1 227.5C174.9 224.8 174.6 221.2 174.1 218.4C173.6 215.6 171.6 212.8 171.1 210.4C170.6 208.1 169.8 206.2 171.1 204.3C172.4 202.5 176.4 200.0 179.1 199.3C181.8 198.6 184.5 199.1 187.2 200.3C189.9 201.5 192.9 205.0 195.2 206.3C197.5 207.7 198.2 208.1 201.2 208.4C204.2 208.8 209.9 208.6 213.3 208.4C216.7 208.2 218.7 207.1 221.4 207.4C224.1 207.7 226.7 208.9 229.4 210.4C232.1 211.9 235.5 214.1 237.5 216.4C239.5 218.8 240.8 221.5 241.5 224.5C242.2 227.5 241.3 231.5 241.5 234.5C241.7 237.5 241.9 239.7 242.5 242.6C243.1 245.5 243.8 248.8 244.9 252.1C246.0 255.3 246.2 259.2 248.9 262.1C251.6 265.0 256.3 267.9 261 269.2C265.7 270.5 273.1 271.4 277.1 270.2C281.1 269.0 282.5 264.8 285.2 262.1C287.9 259.4 290.5 256.1 293.2 254.1C295.9 252.1 299.3 249.8 301.2 250.1C303.1 250.4 303.9 253.4 304.3 256.1C304.7 258.8 303.1 263.2 303.3 266.2C303.5 269.2 303.0 272.2 305.3 274.2C307.6 276.2 313.7 276.5 317.4 278.2C321.1 279.9 324.4 282.3 327.4 284.3C330.4 286.3 334.5 287.6 335.5 290.3C336.5 293.0 334.6 297.8 333.5 300.4C332.4 303.0 331.7 305.3 329 306C326.3 306.7 321.3 305.0 317.4 304.4C313.4 303.8 309.0 301.7 305.3 302.4C301.6 303.1 297.0 306.1 295.2 308.4C293.4 310.7 294.4 313.7 294.6 316C294.8 318.3 296.1 318.7 296.6 322.1C297.1 325.5 297.9 331.5 297.6 336.2C297.3 340.9 294.4 345.9 294.6 350.3C294.8 354.7 297.6 359.1 298.6 362.3C299.6 365.5 300.4 367.1 300.6 369.4C300.8 371.7 300.1 374.9 300 376L305 420L100 420L100 290Z" fill="#feeea5"/>
<path d="M226 344C226.7 344.4 227.8 344.5 230.2 346.2C232.6 347.9 236.5 351.3 240.2 354.3C243.9 357.3 248.3 361.0 252.3 364.3C256.3 367.6 261.0 370.4 264.4 374.4C267.8 378.4 271.1 383.9 272.4 388.5C273.7 393.1 272.4 399.8 272.4 402L272 412L210 412L210 344Z" fill="#f67b4a"/>
<polygon points="198.6,312.4 209.7,312.4 216,319.5 209,317 203,318 198,317" fill="#f67b4a"/>
<path d="M348.8 119.3C350.3 118.5 353.3 117.7 354.8 117.9C356.3 118.1 358.1 118.7 357.9 120.4C357.7 122.2 356.0 126.7 353.8 128.4C351.6 130.1 346.6 130.6 344.8 130.4C343.0 130.2 342.6 128.7 342.8 127.4C343.0 126.1 344.8 123.8 345.8 122.4C346.8 121.1 347.3 120.0 348.8 119.3Z" fill="#feeea5"/>
<path d="M375 118C375.2 118.5 375.0 118.4 376 120.8C377.0 123.2 378.8 128.5 381 132.4C383.2 136.3 387.0 140.5 389 144.5C391.0 148.5 392.6 153.3 393.1 156.6C393.6 159.8 392.1 161.1 392.1 164C392.1 166.9 392.3 171.2 393.1 174.1C393.9 177.0 395.4 179.7 397.1 181.2C398.8 182.7 401.1 184.0 403.1 183.2C405.1 182.4 407.8 178.7 409.2 176.2C410.6 173.7 411.4 171.1 411.6 168.1C411.8 165.1 410.9 160.9 410.2 158C409.5 155.1 407.0 152.8 407.2 150.5C407.4 148.2 409.4 146.5 411.2 144.5C413.0 142.5 416.5 140.5 418.2 138.5C419.9 136.5 421.2 134.5 421.2 132.4C421.2 130.3 418.5 127.1 418 126L420 105L375 105Z" fill="#feeea5"/>
<path d="M342.8 174.1C344.1 172.9 346.5 171.4 348.8 171.1C351.1 170.8 354.1 170.9 356.8 172.1C359.5 173.3 361.9 175.8 364.9 178.2C367.9 180.5 372.3 183.2 375 186.2C377.7 189.2 380.3 192.6 381 196.3C381.7 200.0 380.0 204.4 379 208.4C378.0 212.4 376.5 216.7 375 220.4C373.5 224.1 371.8 228.2 369.9 230.5C368.0 232.8 366.1 234.2 363.9 234.5C361.7 234.8 359.3 233.5 356.8 232.5C354.3 231.5 351.5 229.8 348.8 228.5C346.1 227.2 343.5 225.7 340.8 224.5C338.1 223.3 334.7 221.4 332.7 221.4C330.7 221.4 330.4 222.7 328.7 224.5C327.0 226.3 325.0 230.2 322.6 232.5C320.2 234.8 317.6 237.2 314.6 238.5C311.6 239.8 307.4 240.9 304.5 240.6C301.6 240.3 299.2 238.5 297.5 236.5C295.8 234.5 295.2 231.2 294.5 228.5C293.8 225.8 294.9 222.4 293.5 220.4C292.1 218.4 287.6 217.3 286.4 216.4C285.2 215.5 284.7 214.8 286.4 214.8C288.1 214.8 294.1 215.5 296.5 216.4C298.9 217.3 298.1 219.9 300.5 220.4C302.9 220.9 306.9 219.7 310.6 219.4C314.3 219.1 319.2 219.4 322.6 218.4C326.0 217.4 327.7 214.7 330.7 213.4C333.7 212.1 337.8 211.4 340.8 210.4C343.8 209.4 346.6 209.1 348.8 207.4C351.0 205.7 353.0 202.2 353.8 200.3C354.6 198.5 354.6 198.0 353.8 196.3C353.0 194.6 350.6 192.5 348.8 190.2C347.0 187.8 344.1 184.2 342.8 182.2C341.5 180.2 340.8 179.5 340.8 178.2C340.8 176.8 341.5 175.3 342.8 174.1Z" fill="#feeea5"/>
<path d="M396.6 254.2C398.7 252.0 403.0 248.5 406.7 246.2C410.4 243.8 414.7 241.3 418.7 240.1C422.7 238.9 427.1 238.2 430.8 239.1C434.5 239.9 438.4 242.7 440.9 245.2C443.4 247.7 445.6 251.0 445.9 254.2C446.2 257.4 444.4 261.1 442.9 264.3C441.4 267.5 436.8 271.0 436.8 273.3C436.8 275.6 441.2 276.5 442.9 278.4C444.6 280.2 446.6 282.4 446.9 284.4C447.2 286.4 446.6 288.5 444.9 290.4C443.2 292.2 439.8 294.3 436.8 295.5C433.8 296.7 429.5 296.7 426.8 297.5C424.1 298.3 421.8 299.2 420.7 300.5C419.6 301.8 419.7 303.0 420.2 305C420.7 307.0 422.9 310.1 423.9 312.6C424.9 315.1 426.6 317.6 426.4 320.1C426.2 322.6 424.2 325.1 422.7 327.6C421.2 330.1 419.1 332.6 417.6 335.1C416.1 337.6 415.6 339.7 413.9 342.6C412.2 345.5 409.9 349.4 407.6 352.7C405.3 356.0 402.0 359.8 400.1 362.7C398.2 365.6 397.1 367.7 396.3 370.2C395.5 372.7 394.9 374.8 395.1 377.7C395.3 380.6 397.6 385.2 397.6 387.7C397.6 390.2 397.2 391.5 395.1 392.8C393.0 394.1 387.4 394.9 385.1 395.3C382.8 395.8 383.1 396.3 381.1 395.5C379.1 394.7 375.5 391.0 373.1 390.5C370.8 390.0 369.4 392.8 367 392.5C364.6 392.2 362.0 389.5 359 388.5C356.0 387.5 352.2 386.7 348.9 386.5C345.5 386.3 341.2 386.9 338.9 387.5C336.6 388.1 336.0 387.9 335.1 390C334.2 392.1 333.6 396.6 333.8 400C334.0 403.4 335.2 406.8 336.3 410.1C337.4 413.5 339.8 417.6 340.1 420.1C340.4 422.6 339.7 423.5 338 425C336.3 426.5 332.0 427.5 330 429C328.0 430.5 329.0 432.8 326 434C323.0 435.2 314.3 443.3 312 436C309.7 428.7 311.0 398.2 312 390C313.0 381.8 315.9 388.2 318 387C320.1 385.8 322.8 383.6 324.8 382.5C326.8 381.4 328.5 382.8 329.8 380.4C331.1 378.0 331.6 372.4 332.8 368.4C334.0 364.4 335.5 359.8 336.9 356.3C338.2 352.8 339.2 350.2 340.9 347.2C342.6 344.2 344.5 340.9 346.9 338.2C349.2 335.5 351.6 332.5 355 331.1C358.4 329.8 363.3 330.9 367 330.1C370.7 329.3 373.7 327.8 377.1 326.1C380.5 324.4 384.3 321.7 387.2 320.1C390.1 318.5 392.0 318.2 394.6 316.6C397.2 315.0 400.1 312.6 402.6 310.6C405.1 308.6 407.7 306.7 409.7 304.5C411.7 302.3 414.0 300.2 414.7 297.5C415.4 294.8 414.5 291.6 413.7 288.4C412.9 285.2 411.2 281.2 409.7 278.4C408.2 275.5 406.5 273.1 404.7 271.3C402.9 269.5 400.5 268.5 398.6 267.3C396.8 266.1 394.3 265.7 393.6 264.3C392.9 262.9 393.7 260.9 394.2 259.2C394.7 257.5 394.5 256.4 396.6 254.2Z" fill="#feeea5"/>
<path d="M503 249C501.4 250.0 496.2 252.8 493.2 255.2C490.2 257.6 488.1 261.1 485.1 263.3C482.1 265.5 477.6 266.5 475.1 268.3C472.6 270.1 470.1 273.0 470.1 274.3C470.1 275.6 471.6 276.1 475.1 276.4C478.6 276.7 486.4 276.2 491.2 275.9C496.0 275.6 501.9 274.7 504 274.5L512 274L520 262L520 249Z" fill="#feeea5"/>
<path d="M459 387C458.0 388.3 454.9 392.8 453 395C451.1 397.2 449.0 397.8 447.7 400.3C446.4 402.8 446.8 406.8 445.4 410.1C444.0 413.4 441.0 416.4 439.1 420.1C437.2 423.9 435.8 428.8 434.1 432.6C432.4 436.4 430.6 439.4 429.1 442.7C427.6 446.0 426.8 449.8 425.3 452.7C423.8 455.6 422.0 457.3 420.3 460.2C418.6 463.1 416.6 467.1 415.3 470.2C414.1 473.3 414.1 477.3 412.8 479C411.6 480.7 409.6 480.5 407.8 480.3C406.0 480.1 403.0 478.4 402 478L395 505L480 505L480 387Z" fill="#feeea5"/>
<path d="M362 453C362.6 452.9 363.5 453.0 365.7 452.2C367.9 451.4 372.8 448.9 375.2 448.2C377.6 447.4 377.9 446.8 380.2 447.7C382.5 448.6 386.1 451.9 389 453.9C391.9 455.9 396.6 457.6 397.7 459.7C398.8 461.8 396.7 464.8 395.7 466.5C394.7 468.2 392.8 469.1 391.5 470.2C390.2 471.3 388.6 472.5 388 473L380 473L362 460Z" fill="#feeea5"/>
<polygon points="529,314 536,314 536,321 529,321" fill="#feeea5"/>
<path d="M104.6 112.3C107.1 111.8 112.0 111.3 114.7 112.3C117.4 113.3 119.5 115.3 120.7 118.3C121.9 121.3 122.5 126.7 121.8 130.4C121.1 134.1 119.6 137.8 116.7 140.5C113.8 143.2 107.9 144.5 104.6 146.5C101.2 148.5 98.3 150.2 96.6 152.5C94.9 154.8 95.4 157.8 94.6 160.6C93.8 163.4 93.3 167.0 91.6 169.1C89.9 171.2 86.8 173.1 84.5 173.1C82.2 173.1 79.5 170.9 77.5 169.1C75.5 167.3 73.4 164.9 72.4 162.1C71.4 159.2 71.1 154.3 71.4 152C71.8 149.7 72.3 150.1 74.5 148.5C76.7 146.9 81.8 145.2 84.5 142.5C87.2 139.8 88.9 135.8 90.6 132.4C92.3 129.1 93.1 125.2 94.6 122.4C96.1 119.6 97.9 117.0 99.6 115.3C101.3 113.6 102.1 112.8 104.6 112.3Z" fill="#a50026"/>
<path d="M159 126.4C161.3 125.2 168.1 122.4 171.1 122.4C174.1 122.4 176.4 124.9 177.1 126.4C177.8 127.9 177.1 129.9 175.1 131.4C173.1 132.9 167.7 135.1 165 135.4C162.3 135.7 160.3 134.4 159 133.4C157.7 132.4 157.0 130.6 157 129.4C157.0 128.2 156.7 127.6 159 126.4Z" fill="#a50026"/>
<polygon points="275.3,97.6 280.6,99.6 287.6,105.8 292,110.3 286.6,113.8 278.2,112.8 273.8,108.5 273.4,101.8" fill="#a50026"/>
<path d="M364.4 294.1C366.2 294.3 369.9 295.8 371.4 297.5C372.9 299.2 374.7 302.1 373.5 304.5C372.3 306.9 366.9 311.1 364.4 311.6C361.9 312.1 360.1 309.0 358.4 307.5C356.7 306.0 354.0 304.3 354.3 302.5C354.6 300.7 358.7 297.9 360.4 296.5C362.1 295.1 362.6 293.9 364.4 294.1Z" fill="#a50026"/>
<path d="M315.7 334.1C317.8 333.8 320.6 334.9 322.8 336.2C325.0 337.5 327.6 339.8 328.8 342.2C330.0 344.6 330.5 347.9 329.8 350.3C329.1 352.7 327.0 355.1 324.8 356.3C322.6 357.5 319.1 357.8 316.7 357.3C314.3 356.8 312.1 355.2 310.7 353.3C309.3 351.4 308.4 348.7 308.3 346.2C308.2 343.7 309.1 340.2 310.3 338.2C311.5 336.2 313.6 334.4 315.7 334.1Z" fill="#a50026"/>
<polygon points="464,348.9 469,346.4 475.3,348.9 474,352.7 467.8,353.9 464,351.4" fill="#a50026"/>
<path d="M361 352.3C363.2 351.5 368.6 350.1 371.1 350.3C373.6 350.5 375.4 351.6 376.1 353.3C376.8 355.0 376.3 358.5 375.1 360.3C373.9 362.1 371.4 363.6 369 364.3C366.6 365.0 363.2 365.0 361 364.3C358.8 363.6 356.5 361.8 356 360.3C355.5 358.8 357.2 356.6 358 355.3C358.8 354.0 358.8 353.1 361 352.3Z" fill="#bde2ee"/>
<path d="M462 462C462.5 460.6 465.0 460.9 465.5 462.5C466.0 464.1 465.5 470.1 465 471.5C464.5 472.9 463.0 472.6 462.5 471C462.0 469.4 461.5 463.4 462 462Z" fill="#bde2ee"/>
</g>
<polyline points="124.6,117.6 125.6,120.2 125.6,123 124.3,125.6 123.4,128.4 122.4,131.1 121.8,133.9 123.2,136.8 125.2,139.3 127.2,141.9 125.4,144.1 124.2,146.5 121.5,147.8 119.8,149.8 118.8,152.4 117.1,154.4 119.5,156 122.5,156.7 125.1,158.3 127,160.4 128.5,162.8 129.8,165.2 131.4,167.5 132.4,170.2 131.8,173.4 132.8,176.3 131.1,178.3 130,180.7 129.6,183.4 127.9,185.5 129,188.6 129.7,191.7 129.6,195 131.9,197 134.8,198.3 134.9,201.1 133.7,203.6 133.6,206.4 136.6,208.1 138.9,210.4 139.7,213.5 140.7,216.5 142.9,218.9 143.8,221.9 145.2,224.7 145.6,227.1 145.9,229.6 146.4,232.1" fill="none" stroke="#b6b6b6" stroke-width="1.05" stroke-linejoin="round"/>
<polyline points="50.3,234.5 50,231 49.3,227.5 52.3,227.6 55.1,227.1 57.7,226 60.4,225.6 61.1,223 62.2,220.6 63.5,218.4 66.3,217.7 68.7,216.1 71.5,215.7 73.1,217.8 73.9,220.5 76.3,220 78.8,221 81.4,220.4 83.9,220.6 86.5,220.5" fill="none" stroke="#b6b6b6" stroke-width="1.05" stroke-linejoin="round"/>
<polyline points="96.6,226.8 99.2,225.9 102,226.1 104.6,225.3 107.2,227.1 109.9,228.3 112.7,229.4 114.2,232.3 116,235" fill="none" stroke="#b6b6b6" stroke-width="1.05" stroke-linejoin="round"/>
<polyline points="136.9,226.5 139.5,227.5 142.2,227.1 144.9,227.6 146.1,230.2 148,232.4 151.6,232.9 155,234.6 156.6,232.1 159,230.5 161.3,229.4 163.3,227.9 164.7,225.6 166.9,224.3 170.1,224.6 173.1,225.7 175.3,229.4 177.6,229.4 180.2,229.5 182.7,229.7 185.1,230.5 188.2,230.6 191.2,231.4" fill="none" stroke="#b6b6b6" stroke-width="1.05" stroke-linejoin="round"/>
<polyline points="239.5,168.1 238.2,170.6 237.7,173.4 237.4,176.2 235.1,177.6 232.5,178.4 229.8,178.9 227.3,180 227.7,183 227.2,185.6 226.2,188.2 227.9,190.6 228.3,193.3 225.4,193.6 222.4,193.2 219.4,193.3 218.7,196.2 218.3,199 217.9,201.7 217,204.2 216.4,206.8 216.2,209.5 215.5,212.1 214.6,214.6 214.2,217.2 213.2,219.7 210.5,220.8 208.3,222.6 205.4,223.2 202.9,224.4 200.4,224.8 198.1,226.2 195.5,226.6 192.9,226.9 191.3,231.5" fill="none" stroke="#b6b6b6" stroke-width="1.05" stroke-linejoin="round"/>
<polyline points="191.2,231.5 190.7,235 191.3,238.5 193.7,240.2 196.2,241.8 199.2,242.5 202.2,243.2 205.3,242.9 208.3,242.9 211.3,243.5 214.2,242.2 216.4,239.8 219.4,238.6 222,237.6 224.6,236.6 227.4,236.3 230.5,238.3 233.5,240.6 236.3,242.1 239.4,242.8 241.5,240.8 244.2,240.1 246.1,238.2 248.3,236.7 250.5,234.8 252.2,232.5 254.6,231.4 257.4,231.6 260,230.9 262.3,229.6 265.1,229.6 267.5,231.3 270.3,231.6 272.9,231.5 275.5,231.2 278,230.7 280.4,229.6 283.1,230.4 285.7,231.5 288.4,232.5 290.7,230.8 292.6,228.6 294.6,226.6 296.5,224.8 298.6,223.2 300.7,221.6 303.3,221.1 306,220.7 308.5,219.5 311.4,219.9 313.9,221.4 316.6,222.4 319.4,223.5 322.2,224.7 324.7,226.3 327.1,226 329.7,225.7 330.8,228.3 332.5,230.6 335.5,229.3 337.8,227.2 340.7,226.3 343.2,228.1 344.7,230.6 347,232.3 348.6,234.7 350.8,236.5 353.5,237.3 356.1,238.3 358.9,238.6 361.3,237.4 363.9,237.7 366.4,236.8 369,236.8 371.4,235.7 373.9,235.1 376.6,235.6 379,234.5 381.9,233.2 385.1,233.4 388.2,232.8 391.1,231.5 393.6,231.3 396,232.5 398.6,232 401.1,232.4 403.6,231.2 406.6,231.7 409.2,230.4 412.1,229.2 415.2,228.8 418.3,228.5 421.3,227.8 423.6,226 426.3,225.4 428.6,223.8 431.4,223.2" fill="none" stroke="#b6b6b6" stroke-width="1.05" stroke-linejoin="round"/>
<polyline points="219.4,238.5 219.5,241.5 219.6,244.6 220.9,247.5 223,248.7 225.6,249.2 228.4,248.8 230.8,250.3 232.1,252.4 234.4,253.8 235.1,256.5 237.4,258 238.9,260.1 241.3,261.8 243.8,263.4 246.2,265 249,266.1 250.9,269.2 253.1,272.1 255.6,272.1 258.3,272.5 261,272.1 263.6,272.7 266.3,273.5 269,273 271.1,275.1 273.3,277 275.6,277.3 278,276.1 280.6,276 283.1,276.3 284.1,273.2 285.2,270.2 287.8,269.3 290.2,268.2 292.7,267.1 295.1,266 298,264.2 301.1,263 304.2,262.5 307.2,262.4 310.3,262.9 313.3,261.9 316,260.8 318.9,260.2 321.6,259.2 324.7,259.3 327.5,258.3 329.9,257.7 332.4,257.1 334.7,255.8 337.1,254.8 339.5,254 341,251.5 341.8,248.5 343.5,246 343.3,243.2 343.7,240.4 343.9,237.7 343.6,234.9 343.1,232.1 341,230.3 338.8,228.4 336.2,227 333.5,229.1 330.3,230.3 327.4,228.3 324.7,226.4" fill="none" stroke="#b6b6b6" stroke-width="1.05" stroke-linejoin="round"/>
<polyline points="283.1,276.2 284,278.7 284,281.3 284,283.9 285.1,286.3 285.9,289 286.8,291.6 287.4,294.3 286.8,297.4 287.3,300.4 288.3,303.3 288.1,306.4 287.5,309.1 286.9,311.9 287.4,314.8 286.9,317.6 286.5,320.3 283.5,320.5 280.6,320.3 277.9,320.9 275.1,321.7 272.4,322.3 269.8,323.4 267,323.7 264.9,324.9 263,326.7 260.7,328 258.5,329.2 255.8,330.6 252.9,331.5 250.7,333.7 247.8,334.6 245.3,336.2 247.8,338 250.2,340 252.2,342.3 255.9,342.2 259.4,341.3 258.9,344.2 259.1,347.3 259.5,350.3 259,352.9 257.8,355.3 257,357.8 256.2,360.3 256.7,363.3 257.6,366.1 258.2,368.9 259.4,371.6 260.3,374.4 260.4,377.3 261.2,380 261.2,382.9 261.5,385.8 262.4,388.5 263.4,391.3 264.2,394.1 264.6,397 265.5,399.8 266.4,402.6" fill="none" stroke="#b6b6b6" stroke-width="1.05" stroke-linejoin="round"/>
<polyline points="246.2,200.3 248.7,199 251.7,199.1 254.4,198.3 256.9,196.8 259.5,195.8 262.2,195.1 263.8,197.7 264.7,200.4 265.7,203 265.8,206 267.5,208.3 268.5,211.3 268.2,214.5 269,217.5 270.5,220.3 268,222 265.1,222.6 263.1,224.8 260.5,225.9 258.1,227.4 255.8,225.6 252.8,224.5 250.9,221.9 248.3,220.3 245.5,219.1 242.7,217.9 240.2,216.3 242.1,213.7 243.3,210.7 243.9,207.3 245.5,204 246.2,200.3" fill="none" stroke="#b6b6b6" stroke-width="1.05" stroke-linejoin="round"/>
<polyline points="246.5,122.4 247.5,125 248,127.7 248.7,130.4 250.2,133.2 250.6,136.4" fill="none" stroke="#b6b6b6" stroke-width="1.05" stroke-linejoin="round"/>
<polyline points="368.9,150 366.1,150.7 364,152.6 361.2,153.3 359,155.1 356.6,156 354.4,157.3 352,158 349.9,159.6 347.4,160.2 345.2,161.3 342.9,162.3 341.4,164.4 340.6,167 338.4,168.1 335.7,167.9 333.2,168.6 330.7,169.1 328.2,169.8 325.8,170.5 323.5,171.8 321.1,172.5 318.6,173.1 316,170.5 312.7,168.9 309.7,170.4 307.2,172.5 304.4,173.9 301.7,173.8 299.1,174.3 296.5,175.6 293.8,175.6 291.1,176.2 288.4,176.2 285.9,175.5 283.4,175.7 280.9,175.7 278.4,175.4 275.1,174.1 272.4,171.9 269.6,172.5 267.1,173.6 265.1,175.8 262.3,176.3 259.8,173.4 258.2,170.1 255.3,170.1 252.6,169.3 249.7,169 246.9,168.3 244.1,168.1 239.5,168.1" fill="none" stroke="#b6b6b6" stroke-width="1.05" stroke-linejoin="round"/>
<polyline points="373.2,119.6 371.2,121.7 370,124.5 369.8,127.8 370.9,131 372.7,133.1 374.2,135.4 376.1,137.4 376.4,140.5 376,143.5 373.9,145.9 371.1,147.7 368.9,150" fill="none" stroke="#b6b6b6" stroke-width="1.05" stroke-linejoin="round"/>
<polyline points="340.8,167.1 343.5,168.1 346.1,169.3 348.8,170.2 351,168.8 352.9,167.3 355.9,167.5 358.9,166.9 361.2,168.8 362.9,171.1 360.5,172.2 357.8,172.9 356.3,175.2 355.4,177.7 354.3,180 352.9,182.3 351,184.8 349,187.2 348,190.3 350.3,192.7 352.9,195.2 355.8,195.7 358.9,195.5 361.9,195.4 364.9,196.4 367,200.3 364.3,202.1 361.8,204.1 361.5,206.8 360.8,209.3 360.7,211.8 361.1,214.4 360.5,217 359.2,219.4 358.7,222 358.2,224.6 357.1,227.1 357,229.8 356.8,232.5 357.8,235.5 359.1,238.4" fill="none" stroke="#b6b6b6" stroke-width="1.05" stroke-linejoin="round"/>
<polyline points="339.5,254.1 340.9,256.3 340.6,259.1 341.6,261.5 343.3,263.6 343.5,266.2 345,268.6 345.4,271.5 346.7,274.1 348.4,276.4 350.8,278 353.4,279.4 356,280.6 358.4,282.4 361,284 363.4,285.9 365.5,288.2 368.3,289.5 370,292 370.6,294.9 370.8,297.9 372.3,300.5 374.3,302.6 376.3,304.7 378.3,306.8 380.6,308.5 383.1,309 385.6,309.3 388.2,309.7 390.6,310.7 393.2,308 396.5,306.4 397.9,303.1 398.8,299.6 401.4,300.2 403.8,302 406.6,302.7 409.5,300.6 412.8,299.7" fill="none" stroke="#b6b6b6" stroke-width="1.05" stroke-linejoin="round"/>
<polyline points="343.5,266.2 345.3,268.5 347,270.9 347.8,273.8 349.6,276.1 351.6,277.7 354.1,278.5 355.9,280.4" fill="none" stroke="#b6b6b6" stroke-width="1.05" stroke-linejoin="round"/>
<polyline points="435.3,228.5 437.9,229.4 440.8,228.7 443.4,229.3 446.3,230 448.6,231.8 451.3,232.7 454.1,235.1 457.4,236.6 460.5,236.7 463.5,236.6 464.5,233.5 465.5,230.5" fill="none" stroke="#b6b6b6" stroke-width="1.05" stroke-linejoin="round"/>
<polyline points="420.2,305 422.5,306.9 425.1,308.2 427.5,309.8 430.6,310.5 432.7,312.7 435.6,313.3 438.6,313.4 441.5,313.8 442.1,316.5 442,319.2 442,322 441.8,324.7 442.4,327.4 442.7,330.1 445.4,331.8 447.6,334 450.2,333.7 452.7,333.3 455.3,334 457.8,333.9 460.3,334.1 461.5,330.7 462.9,327.6 462,324.8 461.5,322 460.3,319.3 460.3,316.3 462.9,316.2 465.3,316.8 467.8,316.9 470.3,317.7 473.2,318.7 476,320 478.8,321.3 481.6,322.7 481.9,325.3 481.5,327.9 481.8,330.6 482.4,333.2 482.3,335.9 482.3,338.6 483.3,341.2 482.8,343.9 481.8,346.5 480.4,348.9" fill="none" stroke="#b6b6b6" stroke-width="1.05" stroke-linejoin="round"/>
<polyline points="401.2,316 399.9,318.6 398.4,321.1 396.5,323.3 395.2,325.9 393.2,328.1 391.5,330.2 389.1,331.4 387.1,333.1 385.3,335 382.8,336.2 381.3,338.4 378.1,339.3 375.8,341.6 373.2,343.4 374.6,345.5 375.9,347.9 377.3,350.2 377.8,353.1 378.9,355.7 380.1,358.3 378.9,360.9 377.6,363.5 377.1,366.4 374.1,366.8 370.9,366.8 367.9,367.4 365,368.6 362.1,369.4 358.9,368.8 355.9,369.7 352.9,370.7 351.5,367.5 350.8,364.3 350.8,366.8 350.7,369.4 350.4,371.9 349.9,374.4 347.7,376 346.1,378.3 344,380.1 343.2,382.9 341,384.6 342.5,386.9 344.8,388.6 347.1,390.3 349,392.4 350,395.3 351.4,397.9 353.3,400.2 354.9,402.7 355.4,405.8 356.3,408.8 354.8,410.9 352.7,412.7 351.3,415.1 348.9,416.8 346.8,418.9 345.2,421.5 343.4,423.5 341.9,425.6 340.3,427.7" fill="none" stroke="#b6b6b6" stroke-width="1.05" stroke-linejoin="round"/>
<polyline points="420.7,306.5 423.1,307.8 425.9,308.1 428.5,309.1 430.8,310.5 433.3,312.3 436.3,313 438.8,314.8 439.3,318.3 439.9,322" fill="none" stroke="#b6b6b6" stroke-width="1.05" stroke-linejoin="round"/>
<polyline points="459,318.6 461.8,318.5 464.2,316.8 467,316.8 469.5,317.4 471.9,318.7 474.6,318.9 477.1,319.6" fill="none" stroke="#b6b6b6" stroke-width="1.05" stroke-linejoin="round"/>
<polyline points="34.6,140.3 37.2,142.3 40.2,143.7 43.3,144.8 45.4,146.4 47,148.6 48.8,150.5 49.9,154.2 52,157.4 51.8,160.2 51.5,162.9 50.8,165.6 51.4,168.3 50.7,171.2 48.9,173.6 48.2,176.5 46.1,179.4 43.1,181.5 40.5,181.5 37.9,182.3 35.3,182.8 32.9,184.3 30.2,184.4 27.3,185.3 24.8,186.9 22.3,188.4 18.5,191.5" fill="none" stroke="#0000f8" stroke-width="1.15" stroke-linejoin="round"/>
<polyline points="88.3,219.5 90.9,218.2 94,218.7 96.6,217.6 99,215.3 101.9,214 104.6,212.3 106.8,210.5 109,208.6 110.2,205.8 112.5,204.1 115.7,202.8 118,200.2 120.8,198.4 122.9,195.6 126,194.2 128.9,192.4 130.9,189.1 134,186.6 136.5,185.5 138.1,182.7 140.7,181.6 143.9,180.5 147.2,179.6 149.9,177.4 151,174.1 153,171.1 155.6,168.4 158.9,166.9 163,165.1 167,168.1 170,164.2 173.2,165.9 178.1,166.1" fill="none" stroke="#0000f8" stroke-width="1.15" stroke-linejoin="round"/>
<polyline points="127.5,280.5 128.8,276.3 129.8,273.7 128.9,270.8 129.9,268.2 128.7,264.9 126.3,262 124.8,259.2 122.6,256.7 121.3,253.7 119.6,251 118.8,248 117.3,245.1 117.1,242 117.7,239.4 118.8,237 121.3,235.6 123,233.2 125.3,231.3 127.7,229.4 130.1,227.4 132.6,225.7 134.7,223.4 137.6,222.1 139.9,219.9 142.4,218.1 145.1,216.5 147.5,214.3 150,212.4 152.2,209.9 154.8,208 156.8,205.5 158.5,202.6 161,200.3 163.3,197.2 161.5,194 159.3,191.4 160.9,188.4 161.2,185.2 163.3,183.1 165.5,180.8 167.1,178.1 169.5,175.6 171.2,172.4 174.3,168.7 178.2,166.6" fill="none" stroke="#0000f8" stroke-width="1.15" stroke-linejoin="round"/>
<polyline points="171,166 172.8,162.4 177,163 177.6,168 175.6,169.9 173.9,171.9 170.8,169.7" fill="none" stroke="#0000f8" stroke-width="1.15" stroke-linejoin="round"/>
<polyline points="178.1,166.3 178.9,168.8 179.6,171.4 179.4,174.1 182.5,175 185.2,176.7 187.7,175.9 190.7,175.9 193.3,174.5 196.9,174 200.5,172.6 203,174.8 205.7,173.7 208.4,172.7 211.2,172.2 213.5,169.6 216.5,167.5 221.4,167.3 224.6,166.2 227.5,164.5 229.8,165.8 231.5,168 232.1,165.1 232.6,162.1 232,159.1 230.6,156.4 233.3,152.2 237,151.7 240.5,150.7 243.1,150.5 245.7,149.9 248.4,150.3 249.5,147 252.1,144.6 252.3,141.6 251.6,138.8 251.3,136 254.1,135.1 256,133 258.7,130.7 260.5,127.7 257.3,126 254.2,124.5 250.9,122.7 247.5,121.4 248.2,118.5 249.9,115.9 249,113.5 246.5,112.1 245.1,109.9 244.4,107.3 242,104.5 240.3,101.3" fill="none" stroke="#0000f8" stroke-width="1.15" stroke-linejoin="round"/>
<polyline points="230.4,157 230.1,160 231.8,162.5 233.8,164.6" fill="none" stroke="#0000f8" stroke-width="1.15" stroke-linejoin="round"/>
<polyline points="216.3,167.3 215.1,169.9 214.3,172.6 214.1,175.5 213.5,178.2 213.5,181.6 211.8,184.7 211.5,188 212.4,190.5 214.3,192.4 215.1,195 216.9,196.9 218,201.6 216.2,203.6 215.1,206.2 213.3,208.4 210.7,209.7 208.7,212 206,213.1 203.3,214.4 201.3,216.5 198.3,217.6 195.7,219.5 193.1,221.2 191.8,224.2 190.5,227.2 188,229.4 186.9,232.4 186.7,235.5 186.1,238.6 184.7,241.4 182.5,243.7 181.2,246.6 178.6,248.9 177.2,252.1 175.7,255.1" fill="none" stroke="#0000f8" stroke-width="1.15" stroke-linejoin="round"/>
<polyline points="141.3,267.3 143.9,265.8 146.6,264.3 149.7,263.8 152.2,262 155.1,261.6 157.9,260.5 160.6,259.2 163.6,259.1 166.3,258 169.4,257.1 172.2,255.4 175.4,254.7 177.1,252 179.3,249.4 180.3,246.1 182.1,242.9 184.6,240.2" fill="none" stroke="#0000f8" stroke-width="1.15" stroke-linejoin="round"/>
<polyline points="175.5,255 178,256.3 179.5,259 182.6,259.6 184.4,261.9 187.4,263 189.7,264.9 191.4,267.7 194.5,268.6 193.2,271.2 192.6,273.8 191.6,276.2 189.7,278.7 187.9,281.3" fill="none" stroke="#0000f8" stroke-width="1.15" stroke-linejoin="round"/>
<polyline points="248.4,150.3 250.4,152.7 252.4,155 254.4,157.3 256.2,159.4 259.2,159.4 261,161.5 263.2,163 265.1,165.7 265.5,169 267.9,170.8 270.7,172 271.3,174.9 271.3,177.6 272.2,180.2 270,181.9 268.5,184.4 267,187.1 265.5,189.9 263.3,192.3 261.6,194.7 261.2,197.6 260.1,200.2 258.9,202.9 256.9,205.1 256.3,208.2 254.3,210.5 252.2,212.6 250.4,215 249.1,217.7 247.4,220.2 246,222.4 244.6,224.5 242.9,226.6 240.9,228.4 239.9,231.4 237.2,233.5 235.9,236.4 234.6,239.1 232.2,240.7 230,242.6 228.2,244.8 225.9,246.2 223.3,247 221.9,249.6 219.4,250.5 217.4,253.1 214.5,254.5 212.8,257.3 212.5,260.6 214.2,262.7 215.2,265.3 215.7,268.2 218.6,270 220.8,272.4 222.6,275.2" fill="none" stroke="#0000f8" stroke-width="1.15" stroke-linejoin="round"/>
<polyline points="263.3,162.8 265.5,165 267.9,166.9 270,169.1 272.4,171 274.6,172.9 277.1,174.1 279.8,175.2 282.5,176 285.4,177 288.5,177.5 291.6,178.2 294.4,179.7 297,182 300.7,182.9 300.6,186.4 301.8,189.3 302.8,192.3 302.3,195.7 300.9,198.9 300.5,202.3 298.6,204.1 297,206.2 295.7,208.6 294.3,210.9 293.2,213.5 293,216.3 293.4,219.4 294.7,222.4 295,225.4 294.7,228.5 291.8,231.1 290.5,234.6 289.3,237.3 287.1,239.6 286.5,242.7 284.6,245.1 283,247.8 281.3,250.5 279,252.5 276.7,254.4 275.3,257.3 272.8,258.8 270.1,259.7 267.9,261.6 265,262.1 263,264.9 261.9,268.2" fill="none" stroke="#0000f8" stroke-width="1.15" stroke-linejoin="round"/>
<polyline points="358.9,250 361.2,248.5 363.6,247.3 366.3,246.4 368.2,244.3 370.6,243 372.9,241.7 375.5,239.9 378.5,239.2 381.4,238.1 384.4,237.2 386.9,235.2 389.3,234 391.5,232.5 394.5,232.4 396.8,231 399,229.2 402.3,228.2 405,226.1 407.3,223.6 410.1,225.4 413.3,226.8 415.9,226.3 418.5,227.2 421.2,227 423.6,225.2 426.4,223.7 429.1,222.2 431.4,219.9 433.5,217.4" fill="none" stroke="#0000f8" stroke-width="1.15" stroke-linejoin="round"/>
<polyline points="433.5,217.4 434.2,220.6 434.6,223.9 435.4,227 435.8,230.2 435.7,233.4 434.6,236.5 433.6,239.3 431.6,241.6 430.7,244.4 428.7,247 426.7,249.6 424.7,252.1 422.6,254.8 419.7,256.4 417.1,257.9 414,257.8 411.7,260.1 408.6,260.2 406.7,262.6 403.7,263.3 401.6,265.4 399.1,266.9 396.5,268.1 394.6,270.4 392.1,271.7 389,271.9 386.9,273.9 384.6,275.5 381.4,275.5 378.6,276.6 376.3,279 373.3,279.5 370.5,280.6 367.7,281.5 364.7,281.8 362.2,283.4 359.1,283.3 356.5,284.7 353.5,285.9 350.2,285.8 347.4,287.4 344.3,288.3 341.3,288.3 338.3,288.8 335.2,289.3 332.2,289.7 328.8,289.8 325.4,290.1 322.2,291.3" fill="none" stroke="#0000f8" stroke-width="1.15" stroke-linejoin="round"/>
<polyline points="322.3,291.6 321.8,292.6 321.2,293.3 320.1,292.8 319.4,293.2 318.2,292.2 317.3,292.2 316.9,293.6 316.1,293.8 315.8,295.1 315.1,295.7 313.8,294.7 313.1,295 312,294.5 311.2,294.6 311,296.4 310.3,296.7 309.2,297.1 308.3,297.1 307.6,295.3 306.8,295.4 306,295.1 305.1,295.4 304.1,297 303.3,296.4 302.5,296.4 301.7,295.7 301,294.2 300,295 299.3,294.9 298.3,295.4 297.2,296.3 296.7,295 296,294.5 295.3,293.8 294.8,292.7 293.6,293.8 292.7,294 291.9,294.1 290.9,294.6 290.4,293.5 289.4,293.5 288.7,293.9 287.7,293.7 287.7,295.5 287.2,296.3 286.3,296.4 285.7,297.1 284.3,296 283.3,296.1 282.9,297 282.1,297.5 282.6,299.1 282.2,300 280.9,299.8 280.5,300.5 279,300.2 278.2,300.5 278.4,301.8 277.7,302.2 277.3,303.3 276.8,304 275.3,303 274.6,303.3 273.6,303.2 272.8,303.3 272.8,305.1 272.1,305.6 271.4,306 270.1,306.2 269.6,304.2 268.7,304.2 267.9,304.1 267,304.1 265.8,305.6 265.1,304.9 264.3,304.5 263.5,303.8 263,302.3 261.9,303.2 261,303.2 260.6,304.2 260.5,305.5 259.1,304.9 258.2,305 257.4,305.2 256.2,304.9 256.2,306.3 256,307.4 255.3,307.8 255.1,309 253.5,308.4 252.5,308.4 251.9,309.1 251,309.4 251.5,311.4 250.8,311.9 250,312.3 249.1,312.7 247.5,311.7 247.1,312.8 246.5,313.4 246.1,314.5 246.1,316 244.7,315.4 243.9,315.7 242.7,315.5 241.6,315.4 241.7,317.2 241,317.7 240.6,318.7 239.9,319.2 238.5,318.1 237.7,318.5 236.8,318.5 236.1,318.8 236.1,320.8 235.3,321 234.6,321.4 233.8,321.8 232.3,320.6 231.8,321 231.1,321.5 230.3,321.9 230,323.7 229.1,323.5 228.2,323.2 227.3,323.4 226.1,322.2 225.5,323.1 225,324.1 224.2,324.4 223.8,325.9 222.8,325.4" fill="none" stroke="#0000f8" stroke-width="1.15" stroke-linejoin="round"/>
<polyline points="322.3,291.6 323.9,294.3 324,297.6 325.2,300.4 324.3,303 325.2,305.7 325,308.4 324.1,311 323.7,313.6 324,316.4 323.2,319 324.5,321.4 324.9,324.2 326.6,326.4 327.8,329 327.8,332.1 329.5,334.6 330.6,337.4 330.8,340.6 327.8,342.7 324.9,345.4 321.7,346.1 318.7,347.1 318.9,349.9 317.8,352.4 318,355" fill="none" stroke="#0000f8" stroke-width="1.15" stroke-linejoin="round"/>
<polyline points="330.8,342.2 332.9,344.4 336.3,344.5 338.2,347 341,348 343.1,350.6 346.7,350.9 348.8,353.5 351.3,354.6 353.7,355.9 356.2,357.1 359.1,357.1 361.8,359.1 364.1,361.7 367.1,363.4 368.7,365.6 370,368.1 367.1,370 364.8,372.3 362.9,374.9 362.6,378.4 360.6,381.5 360.5,385 361.9,387.3 362.6,389.8 363.6,392.3 366.6,393.6 368.8,396.2 371.7,397.9 373.7,399.9 375.4,402.2 377.9,403.6 380.2,405.2 382.3,406.9 384.5,408.3 387.2,408.8" fill="none" stroke="#0000f8" stroke-width="1.15" stroke-linejoin="round"/>
<polyline points="419.7,256.4 421.9,259.2 423.8,262.3 422.7,264.9 421.3,267.3 420.1,269.9 418.6,272.3 420.1,274.7 420.4,277.4 422.4,279.6 422.7,282.4 421.9,285 421.2,287.6 419.3,289.7 418.8,292.4 417.1,294.7 415.8,297.1 415.8,300.1 414.1,302.4 412.7,305.5 411.8,308.7 411.3,312.1 408.9,313.6 406.7,314.9 404.8,316.7 401.3,318.5 397.6,319.6 396.8,322.5 395,325 398.1,326.5 400.9,328.3 403.6,330.2 405.3,332.9 408.3,334.3 410.8,336.2 412.3,339.2 413.7,342.3 415.4,345.2 417.5,348 420.5,349.2 423.4,350.6 426.1,352.4 428.8,354.3 431.5,356 432.9,359 435.2,361.1" fill="none" stroke="#0000f8" stroke-width="1.15" stroke-linejoin="round"/>
<polyline points="435.3,361 438,361 440.8,361.5 443.5,361.8 446.3,360.6 449,361.2 452,360.2 454.8,359 457.2,356.9 460.2,356.1 462.7,355.3 465.4,354.9 467.7,353.2 470.3,352.7 472.7,351.1 475.6,350.7 478.1,349.5 480.3,347.5" fill="none" stroke="#0000f8" stroke-width="1.15" stroke-linejoin="round"/>
<polyline points="435.3,361 433.7,363.1 431.1,364.2 429.5,366.3 427.6,368.2 425.3,369.5 422.6,371.1 419.9,372.8 417.2,374.4 414.6,376.1 414,378.6 412.4,380.9 411.9,383.5 410.7,386.8 409.8,390.1 409.3,393.4 408.6,397.2 409.4,401 407.7,404 405.4,406.4 401.5,405.3" fill="none" stroke="#0000f8" stroke-width="1.15" stroke-linejoin="round"/>
<polyline points="326.3,417.6 327.3,417.4 328.3,417.3 329.4,416.8 329.6,418.4 329.5,421 330.6,420.4 331.3,421 333.4,418 333.9,419.8 334.6,420.3 333.8,422.5 333.6,424 335.6,422.9 336.3,423.4 338.8,421.6 338,423.8 338.1,425 337.8,426.6 338.1,427.5 340.7,425.6 341.2,426.3 343,425.4 341.8,428.3 342,429.4 342.4,430.2 343.6,430 346.1,428.2 346,429.7 347,429.7 345.6,433 346.6,433 347.6,433.1 349.2,432.3 351,431.4 350.2,433.8 350.9,433.9 351,436.8 352.2,435.4 353.3,434.2 354.3,433.7 355.4,432.6 355.3,436.1 356.1,436.2 356.6,437.7 357.7,436.5 359.1,434.3 359.7,435.2 360.7,434.6 361.4,437.7 362.2,437.3 362.9,436.9 363.3,435.4 363.4,432.7 364.7,434.5 365.5,434 367.1,436.7 367.6,435.6 368,434 368.5,432.9 368.8,431 370.5,433.7 371.3,433.5 372.6,435.1 372.9,433.3 374.2,432.8 374.6,433.5 375.4,434.1 372.5,436.4 373.7,436.8 373.2,438 376.4,437.4 377.2,437.9 377,439 376.3,440.2 374.4,442.1 376.8,441.9 377.1,442.7 380.2,442 379.1,443.5 378.6,444.7 377.7,446.2 377.6,447.1 380.6,446.5 380.9,447.4 382.3,446 381.3,449 381.6,450 382,450.9 383.1,450.8 385.4,448.7 385.5,450.1 386.6,449.9 385.4,453.1 386.1,453.6 387.2,453.4 388.2,452 386.5,449.7 388.8,450.5 389.3,449.9 391.8,450.8 392.1,450.1 390.9,448 391.2,447.3 390,445.3 392.8,446.5 392.5,447.5 392.1,448.8 393,449.2 395.9,448.2 395.8,449.3 397.1,449.3 394.8,451.9 395.1,452.7 395.7,453.2 397.1,453.3 399.8,452.5 398.5,454.4 399.4,453.7 400.2,453.7 401.1,452.9 401.9,453.3 402.8,454.3 403.6,454.2 404.4,454.7 405.3,454.7 406.1,453.4 407,453.4 407.8,453.3 408.8,453.4 409.3,454.9 410.1,455.3 411,455.1 411.8,455.5 412.9,454.6 413.9,454.4 414.5,455.3 415.4,455.4 416,456.4 416.7,457.3 417.8,456.6 418.5,456.8 419.5,456.8 420.6,456.5 420.9,457.7 421.4,458.5 422.2,458.9 422.6,460 423.6,459.8 424.8,459.3 425.5,459.9 426.4,459.8 427.1,460.4 427.2,462 428.1,462.2 428.8,462.6 429.5,463.1 430.9,462.3 431.7,462.5 432.2,463.3 433,463.5 433.8,463.9 434.8,463.8 435,462.7 435.7,462.2 435.9,461.2 436.1,460 437.3,460.2 438.2,460 439,459.6 440.2,459.9 440.5,458.8 440.7,457.6 441.4,457.2 441.6,456.1 442.6,455.9 443.8,456.9 444.5,456.6 445.4,456.8 446.2,456.9 446.9,455.6 447.6,455.1 448.5,455.4 449.2,455 450.1,455.6 451,456.6 451.8,456 452.5,455.7 453.3,455.6 454,454.3 455.1,455.9 454.9,457 455,458 454.3,459.3" fill="none" stroke="#0000f8" stroke-width="1.15" stroke-linejoin="round"/>
<polygon points="10.5,154 13,152.1 16.1,151.4 18.4,149.2 21.4,148.2 24.1,146.6 26.9,145.2 29.4,143.3 32.2,141.9 35,140.6 37.8,139.3 40.3,137.4 42.8,135.7 45.3,134 48,132.5 50.4,131.3 52.5,129.6 54.8,128.3 57.1,126.9 59.3,125.5 61.4,123.8 64,121.9 66.9,120.4 69.4,118.4 72.1,116.6 74.1,114.8 76.5,113.5 79,112.4 81.4,111.3 83.5,109.6 86.3,108.9 88.7,107.6 91.3,106.5 94,105.9 96.4,104.5 96.7,99.6 99,97.5 102.8,98.7 102.9,102.1 105.6,101.4 108.6,101 111.3,99.7 114.2,99.3 117.1,98.5 119.9,97.6 122.8,97 123.5,100.6 124.6,103.9 123.7,107 122.8,110.1 124,112.5 124.2,115.2 125.2,117.6 128,120 130.2,122.8 133.3,122.9 136.4,122.5 139.4,122.5 142.4,122.5 142.3,119.8 142.4,116.8 142.4,113.9 145.1,113.5 147.9,113.1 152,110.8 155,111.6 157.6,113 160.4,113.9 163,114.5 165.5,115.5 167.8,117.1 170.4,117.8 172.9,118.6 175.5,119.2 178,120.2 178.2,123.6 178.7,126.9 179.1,130.2 182.4,130.3 185.5,131.5 188.5,130.3 191.7,129.6 193,132.7 195.6,132.3 198,130.9 200.5,130.3 202.8,128.3 205.7,127.2 207.9,125.1 211.3,124.4 214.7,123.7 218,122.8 220.2,120.9 222.6,119.3 224.5,117 227.3,116 229.3,113.9 231,111.9 232.4,109.6 234.3,107.6 236.1,105.7 237.6,103.4 239.2,101.3 237.2,99.4 235.7,97 238.3,96.7 241,96.8 243.8,96.9 246.5,96.3 249.2,96.7 251.9,96.3 252.9,99.7 256,99 259,99 261.9,98.7 262.9,96.2 264.4,93.8 262.5,91.3 260.7,88.8 260.5,85.8 259.3,83 258.7,80.1 261.6,79.3 264.1,78 266.5,76.6 269.4,76.3 271.9,75.1 275.7,74.6 279.4,73.9 280.8,78.8 279.5,81.9 279,85.1 282.4,84.8 285.7,84 288.5,84.2 291.4,84.4 294.1,85 297,85.2 298.3,82.2 299.1,79.1 300.7,76.3 303.4,74.6 305.5,72.2 308.2,70.6 310.9,68.9 313.5,70.2 316.3,71.2 318.2,74.2 319.5,77.5 318.4,80.6 317.6,83.8 313.7,84.4 310,84.9 311.2,87.6 314.1,87.9 316.9,87.6 319.6,88.3 322.4,88.1 325.1,89 328.2,90.5 331.3,92.1 333.1,90 334.3,87.4 336.6,85.6 338.2,83.4 339.4,80.8 341.5,78.9 343.6,75.8 345.3,72.6 347.8,73.7 349.9,75.9 352.5,77.1 353.5,79.6 354.3,82.3 354.5,85.1 353.4,88.4 351.4,91.3 352.6,93.7 354.5,95.8 356,98 357.5,100.3 359,102.5 360.4,107.6 364,106.8 367.7,106 370.2,108.4 373.3,110 373.4,113.3 372.9,116.4 373.3,119.6 375.9,119.6 378.6,119.4 381.2,119.1 383.9,118.5 386.5,118.2 389.8,118.7 393.2,118.3 396.5,118.8 399.1,117.3 401.5,115.4 404.2,113.9 406.6,112.1 410.3,112.7 412.1,115.2 413.8,117.8 415.7,120.3 416.5,123.9 416.7,127.7 418.6,129.4 420.9,130.9 423.3,132.2 425.7,133.5 428.1,134.8 430.2,136.6 433.7,136.2 437.1,136.1 440.4,135.3 445.4,136.5 446.3,139.5 446.5,142.7 449.6,141.1 452.9,140.1 454.8,142.7 456.6,145.2 453.8,147.4 451.6,150.2 451.8,155.2 449.5,156.9 447.8,158.9 448.2,162.2 448.9,165.3 446.8,167.6 444.9,170.3 444.9,173.6 445.7,176.9 445.5,180.3 443.6,182.3 441.5,184 444.2,184.8 442.7,187.7 441,190.1 439.2,192.6 437.2,195.7 435.1,198.7 433.3,200.6 431.4,202.5 429.2,204 429.2,207.6 429.8,211.3 431.5,214.7 434.2,217.5 434,221 435.1,224.2 435.1,227.6 438.4,226.8 441.1,225 444,223.7 446.6,224.8 449.1,225.6 451.6,226.5 454.5,225.6 457.5,225.9 460.4,225 463.5,225.2 466.7,225.3 469.8,225.6 472.9,226.4 475.9,226.9 478.8,227.9 481.7,229 482.7,231.5 484.2,233.9 487.1,233.6 490.1,234 493,233.9 493.8,236.6 495.3,239 496.4,241.6 498.2,243.8 499,246.5 500.5,248.9 502.6,251.3 504.4,253.8 507.6,254.2 511,254.6 514.3,254.6 514,258.2 513,261.5 510.5,262.7 508,263.9 505.5,265.6 503.6,267.8 503,270.9 503.6,274 505.3,276.3 507.6,278 509.2,280.4 512.1,280 515,280 517.8,280.2 520.6,279.8 522.5,281.8 524.5,283.7 526.8,285.3 527.9,287.7 528.2,290.4 529.3,292.8 529.7,295.8 529.2,298.9 529.5,302 530,305 531.4,307.5 532.3,310.2 533.9,312.5 535.2,315.1 532,317.4 529.3,320.1 526.2,320.5 523.1,321.5 521.4,323.8 519.8,326.3 518.2,328.9 515.3,330.1 513,332 510.5,333.5 508,335.1 506.7,338 505.9,341.1 504.4,343.9 505.5,346.9 505.9,350.2 503.4,351.8 500.5,352.6 500.2,355.8 500.4,358.9 495.5,358.7 494.9,355.8 494.2,352.7 491.3,353.3 488.4,353.9 485.5,354.7 482.9,350.2 480.4,350.8 477.9,351.6 475.4,352.8 475.2,355.9 474.2,358.9 471.2,361 467.9,362.8 466.3,365 465.1,367.6 463.7,370 462.9,372.7 461.4,375.1 460.5,377.7 459.6,381.4 459.1,385.2 458.8,387.8 457.7,390.2 457.1,392.7 456.7,395.3 453.4,396.3 450.4,397.9 448.8,400.5 448.1,403.7 446.5,406.4 445.8,409.6 445.5,412.8 447,415 447.9,417.6 447.2,420.1 446.1,422.6 445.4,425.1 446.9,428.7 447.5,432.6 450.1,433.3 452.9,434 454.8,436.7 456.2,439.8 458,442.6 459.6,445.4 461.7,447.7 464.3,449.4 466.8,451.3 465.6,454.5 465.6,457.7 467.3,460.9 469.3,463.9 468,466.6 466.7,469.2 464.9,471.4 464.7,474.4 464.9,477.4 464.4,480.3 462.2,482.3 460.5,484.6 458.3,486.4 455.7,485.2 452.9,483.9 450,486.2 446.8,487.9 443.6,486.9 440.4,486.3 437.5,487.4 434.5,488.2 431.6,489 430.7,492.5 429.2,495.8 425.3,492.9 422.6,494 419.6,494.6 416.6,495.4 414,495.7 411.5,496.7 409,497.6 408,494.7 407.9,491.5 405.4,487.7 404.7,484.8 403.2,482.1 403,478.9 401.5,476.6 399.6,474.7 397.9,472.6 394.9,472.7 392.2,471.8 389.3,472.2 386.5,471.5 388.1,469.2 388.9,466.5 387.1,464.6 385.3,462.7 382.9,460.9 380.9,458.7 379.1,456.3 375.9,455.6 372.7,456.2 369.6,455.8 366.5,455.4 364.2,453.1 361.6,451.2 359.5,449.1 358.6,446.3 356.8,443.9 355.1,441.5 352.3,440.4 349.3,439.7 346.4,439 343.7,437.5 341.3,435.8 338.8,434 335.6,434.9 332.2,435.4 328.9,436.6 325.7,435.2 322.7,433.7 323.8,430.7 325,427.5 324.5,425 323.8,422.5 322.5,420.1 324,417.7 325.2,415.3 326.2,412.7 327.3,410.2 326.1,406.9 324.7,403.8 321.3,402.9 318.4,400.9 315.2,399.9 314.3,396.3 313.8,392.5 316.2,390.7 318.1,388.3 320.5,386.4 320.1,383.7 320.6,380.8 319.9,378 319.8,375.2 322.7,373.6 325.1,371.5 324.2,366.4 325.5,364 327.5,362.2 325.6,358.8 321.7,358.9 318,358.2 316.5,360.6 314.4,362.4 312.3,364.3 310.4,366.3 308.5,368.2 306.2,369.7 304,371.2 301.8,372.9 300.6,375.1 299.9,377.7 300.5,380.6 300.3,383.5 299.9,386.4 300.1,389.3 300.4,392.2 297.8,393 295.1,393.5 292.3,393.7 289.6,394 286.9,394.7 284.2,395.1 281.4,396.8 279.4,399.4 276.4,400.6 274.1,402.8 270.3,403.3 266.6,404 264,403 261.2,402.4 258.5,401.6 255.9,400.7 253.1,400.2 250.4,399.5 247.7,398.7 245,398.3 242.4,398.9 239.6,398.9 236.9,399.2 234.2,399.4 231.5,399.9 229.3,397.2 226.4,395.3 226,392.2 225.1,389.3 224.2,386.5 226.4,384.7 228.3,382.4 230.4,380.3 232.9,377.5 235.8,375.2 232.9,372.6 232.3,369.4 231.7,366.1 231.6,362.7 228.8,362.3 226,362.1 223.3,361.5 224.2,358.8 225.9,356.6 226.4,353.9 226.6,350.8 227.4,347.7 227.3,344.5 227.7,341.4 231.1,339.7 234,337.7 232.9,332.6 230.4,333.8 227.8,334.4 225.3,335.2 224.5,332.6 223.4,330.2 222.8,327.6 219.5,326 216.4,323.9 214.4,321.8 213.1,319.1 210.7,317.4 208.9,315.1 205.9,316.1 202.8,317.2 199.8,317.5 197.1,318.9 194.1,318.9 191.4,320.1 188.7,319.2 186.3,317.8 183.8,316.4 181.3,315.1 178.5,314.9 175.7,315.4 172.9,316 170.1,316.3 168.6,319.1 167.6,322.1 166.3,325.1 163.8,321.4 162.8,318.6 160.8,316.4 159.7,313.7 160.3,310.8 159.7,307.8 160.3,304.8 160,301.7 159.3,298.6 159.5,295.4 159.1,292.3 157.4,290.2 155.1,288.8 153.2,286.9 151.6,284.7 148.5,284.5 145.3,284.1 142.2,283.7 139.1,283.4 137.5,280.5 136.5,277.2 131.6,278.3 129,279.5 126.5,280.9 123.9,281.8 121.7,283.7 118.7,281.8 115.6,280.4 112.7,278.6 111,275.6 109.7,272.5 107.7,269.8 107.7,266.4 107.4,263 107.8,259.7 106.5,257.3 106.1,254.6 105,252.1 103.6,249.8 102.9,247.2 103.6,244.3 103.7,241.3 104.2,238.4 101.4,236.8 99.1,235 96.5,233.4 95,230.9 93.7,228.2 91.8,226 90.4,223.4 88.9,220.9 86.1,221.2 83.2,221.9 80.2,222 77.1,223 74.4,224.8 71.5,226 68.6,227.3 66.6,229.9 63.7,231.3 61.3,233.3 59.8,236.5 58,239.6 56,237.8 53.9,235.9 51.4,235 48.9,234.2 46.4,233.4 44.2,231.2 41.7,229.3 40.2,226.4 37.6,224.6 36.1,221.7 34.8,218.7 32.5,216.3 31.3,213.3 27.9,213.2 24.7,212.3 21.3,212 20.2,209.4 18.3,207.1 16.9,204.6 17.5,201.5 18.1,198.5 18.5,195.6 18.6,192.5 18.6,189.5 20.2,185.4 19.4,182.7 18.8,180.1 17.3,177.9 16.5,175.4 15.5,172.9 14.9,170.3 14.4,167.6 13.6,164.8 12.5,162.2 12.2,159.4 11.1,156.8" fill="none" stroke="#1c1c1c" stroke-width="1.45" stroke-linejoin="round"/><ellipse cx="332" cy="81.5" rx="2.7" ry="3.7" fill="#111" transform="rotate(25 332 81.5)"/>
</g>
<!-- headers -->
<g fill="#0050ff">
<path d="M7 5H20.5C24 9 29 14 29 22V33C29 38 22 43 20.5 48V53.5H7Z"/>
<path d="M56 8C50 9 44 14 42 21C41 25 41 28 39.5 31C36 38 26 45 24.3 50.5L23.7 53.5H56Z"/>
<g fill="none" stroke="#0050ff" stroke-linejoin="miter">
<path d="M8.6 56V70.3" stroke-width="3"/><path d="M9.5 65.2L20.8 56.4M12.6 62.4L20.9 70" stroke-width="2.5"/>
<path d="M27.5 70.3V56M45.8 56V70.3" stroke-width="3"/><path d="M28.2 56.6L36.65 69.3L45.1 56.6" stroke-width="2.4"/>
<path d="M54.4 56V70.3" stroke-width="3.1"/>
</g>
</g>
<g transform="translate(640,0)"><g fill="#0050ff">
<path d="M7 5H20.5C24 9 29 14 29 22V33C29 38 22 43 20.5 48V53.5H7Z"/>
<path d="M56 8C50 9 44 14 42 21C41 25 41 28 39.5 31C36 38 26 45 24.3 50.5L23.7 53.5H56Z"/>
<g fill="none" stroke="#0050ff" stroke-linejoin="miter">
<path d="M8.6 56V70.3" stroke-width="3"/><path d="M9.5 65.2L20.8 56.4M12.6 62.4L20.9 70" stroke-width="2.5"/>
<path d="M27.5 70.3V56M45.8 56V70.3" stroke-width="3"/><path d="M28.2 56.6L36.65 69.3L45.1 56.6" stroke-width="2.4"/>
<path d="M54.4 56V70.3" stroke-width="3.1"/>
</g>
</g></g>
<text x="79" y="30.5" font-size="14.6" font-weight="bold">Dagelijkse maximumtemperatuur</text>
<text x="77.9" y="51.6" font-size="12.9">gemiddelde januari 2022</text>
<text x="719.5" y="30.5" font-size="14.6" font-weight="bold">Afwijking van de normaalwaarde van de dagelijkse maximumtemperatuur</text>
<text x="717.9" y="51.6" font-size="12.9">gemiddelde januari 2022 in vergelijking met de maandelijkse normaalwaarde 1991-2020</text>
<text x="616.8" y="73.6" font-size="14" font-weight="bold"><tspan font-size="14" font-weight="normal" dy="0.9">°</tspan><tspan dy="-0.9" dx="0.7">C</tspan></text>
<text x="1198.5" y="73.6" font-size="14" font-weight="bold">Verschil <tspan font-size="14" font-weight="normal" dy="0.9" dx="0.9">°</tspan><tspan dy="-0.9" dx="0.7">C</tspan></text>
<rect x="563" y="96.00" width="26" height="33.26" fill="#a50026"/>
<rect x="563" y="128.96" width="26" height="33.26" fill="#d22c27"/>
<rect x="563" y="161.92" width="26" height="33.26" fill="#ef623e"/>
<rect x="563" y="194.88" width="26" height="33.26" fill="#fb9c59"/>
<rect x="563" y="227.83" width="26" height="33.26" fill="#fece7f"/>
<rect x="563" y="260.79" width="26" height="33.26" fill="#fff1aa"/>
<rect x="563" y="293.75" width="26" height="33.26" fill="#f1fad9"/>
<rect x="563" y="326.71" width="26" height="33.26" fill="#cdeaf3"/>
<rect x="563" y="359.67" width="26" height="33.26" fill="#9ccde3"/>
<rect x="563" y="392.62" width="26" height="33.26" fill="#6ca3cc"/>
<rect x="563" y="425.58" width="26" height="33.26" fill="#436fb1"/>
<rect x="563" y="458.54" width="26" height="33.26" fill="#313695"/>
<text x="601.5" y="102.0" font-size="14">8.5</text>
<text x="601.5" y="134.9" font-size="14">8</text>
<text x="601.5" y="167.8" font-size="14">7.5</text>
<text x="601.5" y="200.6" font-size="14">7</text>
<text x="601.5" y="233.5" font-size="14">6.5</text>
<text x="601.5" y="266.4" font-size="14">6</text>
<text x="601.5" y="299.3" font-size="14">5.5</text>
<text x="601.5" y="332.1" font-size="14">5</text>
<text x="601.5" y="365.0" font-size="14">4.5</text>
<text x="601.5" y="397.9" font-size="14">4</text>
<text x="601.5" y="430.8" font-size="14">3.5</text>
<text x="601.5" y="463.6" font-size="14">3</text>
<text x="601.5" y="496.5" font-size="14">2.5</text>
<rect x="1203" y="96.00" width="26" height="99.17" fill="#a50026"/>
<rect x="1203" y="194.88" width="26" height="99.17" fill="#f67b4a"/>
<rect x="1203" y="293.75" width="26" height="99.17" fill="#feeea5"/>
<rect x="1203" y="392.62" width="26" height="99.17" fill="#bde2ee"/>
<text x="1241.5" y="102.0" font-size="14">1.5</text>
<text x="1241.5" y="200.6" font-size="14">1</text>
<text x="1241.5" y="299.3" font-size="14">0.5</text>
<text x="1241.5" y="397.9" font-size="14">0</text>
<text x="1241.5" y="496.5" font-size="14">-0.5</text>
</svg>
</body></html>
